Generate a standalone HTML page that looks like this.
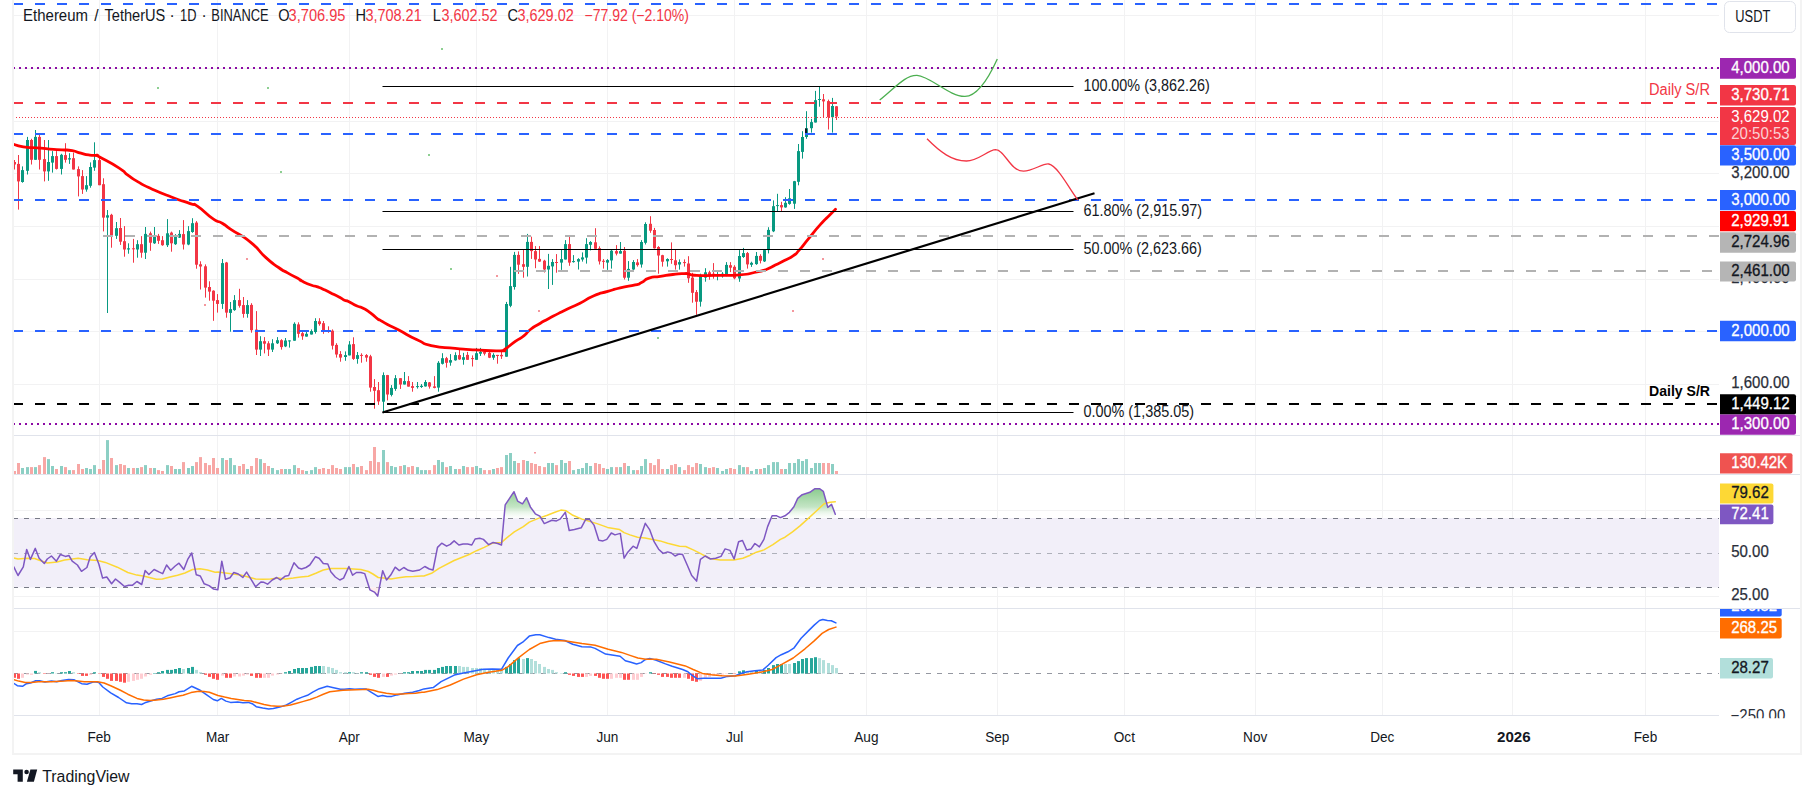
<!DOCTYPE html>
<html><head><meta charset="utf-8">
<style>
html,body{margin:0;padding:0;background:#fff;}
body{width:1814px;height:798px;overflow:hidden;position:relative;font-family:"Liberation Sans",sans-serif;}
svg text{font-family:"Liberation Sans",sans-serif;}
</style></head><body>
<svg width="1814" height="798" viewBox="0 0 1814 798" style="position:absolute;left:0;top:0">
<rect width="1814" height="798" fill="#fff"/>
<line x1="99.5" y1="0" x2="99.5" y2="715" stroke="#f2f2f3" stroke-width="1"/>
<line x1="217.5" y1="0" x2="217.5" y2="715" stroke="#f2f2f3" stroke-width="1"/>
<line x1="349.5" y1="0" x2="349.5" y2="715" stroke="#f2f2f3" stroke-width="1"/>
<line x1="476.5" y1="0" x2="476.5" y2="715" stroke="#f2f2f3" stroke-width="1"/>
<line x1="607.5" y1="0" x2="607.5" y2="715" stroke="#f2f2f3" stroke-width="1"/>
<line x1="734.5" y1="0" x2="734.5" y2="715" stroke="#f2f2f3" stroke-width="1"/>
<line x1="866.5" y1="0" x2="866.5" y2="715" stroke="#f2f2f3" stroke-width="1"/>
<line x1="997.5" y1="0" x2="997.5" y2="715" stroke="#f2f2f3" stroke-width="1"/>
<line x1="1124.5" y1="0" x2="1124.5" y2="715" stroke="#f2f2f3" stroke-width="1"/>
<line x1="1255.5" y1="0" x2="1255.5" y2="715" stroke="#f2f2f3" stroke-width="1"/>
<line x1="1382.5" y1="0" x2="1382.5" y2="715" stroke="#f2f2f3" stroke-width="1"/>
<line x1="1512.5" y1="0" x2="1512.5" y2="715" stroke="#f2f2f3" stroke-width="1"/>
<line x1="1645.5" y1="0" x2="1645.5" y2="715" stroke="#f2f2f3" stroke-width="1"/>
<line x1="14" y1="15.5" x2="1719" y2="15.5" stroke="#f2f2f3" stroke-width="1"/>
<line x1="14" y1="68.5" x2="1719" y2="68.5" stroke="#f2f2f3" stroke-width="1"/>
<line x1="14" y1="121.5" x2="1719" y2="121.5" stroke="#f2f2f3" stroke-width="1"/>
<line x1="14" y1="173.5" x2="1719" y2="173.5" stroke="#f2f2f3" stroke-width="1"/>
<line x1="14" y1="226.5" x2="1719" y2="226.5" stroke="#f2f2f3" stroke-width="1"/>
<line x1="14" y1="279.5" x2="1719" y2="279.5" stroke="#f2f2f3" stroke-width="1"/>
<line x1="14" y1="331.5" x2="1719" y2="331.5" stroke="#f2f2f3" stroke-width="1"/>
<line x1="14" y1="384.5" x2="1719" y2="384.5" stroke="#f2f2f3" stroke-width="1"/>
<line x1="14" y1="510.5" x2="1719" y2="510.5" stroke="#f2f2f3" stroke-width="1"/>
<line x1="14" y1="596.5" x2="1719" y2="596.5" stroke="#f2f2f3" stroke-width="1"/>
<line x1="14" y1="631.5" x2="1719" y2="631.5" stroke="#f2f2f3" stroke-width="1"/>
<rect x="14" y="518" width="1705" height="69.5" fill="#f2eff9"/>
<line x1="13" y1="518.5" x2="1719" y2="518.5" stroke="#787b86" stroke-width="1" stroke-dasharray="5 6"/>
<line x1="13" y1="553.5" x2="1719" y2="553.5" stroke="#aeb0ba" stroke-width="1" stroke-dasharray="5 6"/>
<line x1="13" y1="587.5" x2="1719" y2="587.5" stroke="#787b86" stroke-width="1" stroke-dasharray="5 6"/>
<line x1="13" y1="673.5" x2="1719" y2="673.5" stroke="#9598a1" stroke-width="1" stroke-dasharray="5 6"/>
<rect x="13" y="471.0" width="3" height="3.0" fill="#f7a7a5"/>
<rect x="17" y="463.0" width="3" height="11.0" fill="#f7a7a5"/>
<rect x="21" y="468.0" width="3" height="6.0" fill="#8ccfc4"/>
<rect x="26" y="467.1" width="3" height="6.9" fill="#8ccfc4"/>
<rect x="30" y="467.1" width="3" height="6.9" fill="#f7a7a5"/>
<rect x="34" y="467.1" width="3" height="6.9" fill="#8ccfc4"/>
<rect x="38" y="465.1" width="3" height="8.9" fill="#f7a7a5"/>
<rect x="43" y="457.1" width="3" height="16.9" fill="#f7a7a5"/>
<rect x="47" y="459.1" width="3" height="14.9" fill="#8ccfc4"/>
<rect x="51" y="466.0" width="3" height="8.0" fill="#8ccfc4"/>
<rect x="55" y="469.0" width="3" height="5.0" fill="#f7a7a5"/>
<rect x="60" y="466.0" width="3" height="8.0" fill="#8ccfc4"/>
<rect x="64" y="467.1" width="3" height="6.9" fill="#f7a7a5"/>
<rect x="68" y="470.1" width="3" height="3.9" fill="#8ccfc4"/>
<rect x="72" y="470.1" width="3" height="3.9" fill="#f7a7a5"/>
<rect x="77" y="464.0" width="3" height="10.0" fill="#f7a7a5"/>
<rect x="81" y="469.0" width="3" height="5.0" fill="#f7a7a5"/>
<rect x="85" y="468.0" width="3" height="6.0" fill="#8ccfc4"/>
<rect x="89" y="469.0" width="3" height="5.0" fill="#8ccfc4"/>
<rect x="93" y="465.1" width="3" height="8.9" fill="#8ccfc4"/>
<rect x="98" y="469.0" width="3" height="5.0" fill="#f7a7a5"/>
<rect x="102" y="460.0" width="3" height="14.0" fill="#f7a7a5"/>
<rect x="106" y="440.1" width="3" height="33.9" fill="#8ccfc4"/>
<rect x="110" y="458.0" width="3" height="16.0" fill="#f7a7a5"/>
<rect x="115" y="465.1" width="3" height="8.9" fill="#8ccfc4"/>
<rect x="119" y="464.0" width="3" height="10.0" fill="#f7a7a5"/>
<rect x="123" y="465.1" width="3" height="8.9" fill="#f7a7a5"/>
<rect x="127" y="468.0" width="3" height="6.0" fill="#8ccfc4"/>
<rect x="132" y="468.0" width="3" height="6.0" fill="#f7a7a5"/>
<rect x="136" y="468.0" width="3" height="6.0" fill="#8ccfc4"/>
<rect x="140" y="467.1" width="3" height="6.9" fill="#f7a7a5"/>
<rect x="144" y="465.1" width="3" height="8.9" fill="#8ccfc4"/>
<rect x="149" y="468.0" width="3" height="6.0" fill="#f7a7a5"/>
<rect x="153" y="468.0" width="3" height="6.0" fill="#8ccfc4"/>
<rect x="157" y="470.1" width="3" height="3.9" fill="#f7a7a5"/>
<rect x="161" y="471.0" width="3" height="3.0" fill="#f7a7a5"/>
<rect x="166" y="465.1" width="3" height="8.9" fill="#8ccfc4"/>
<rect x="170" y="466.0" width="3" height="8.0" fill="#f7a7a5"/>
<rect x="174" y="469.0" width="3" height="5.0" fill="#8ccfc4"/>
<rect x="178" y="469.0" width="3" height="5.0" fill="#8ccfc4"/>
<rect x="182" y="462.1" width="3" height="11.9" fill="#f7a7a5"/>
<rect x="187" y="468.0" width="3" height="6.0" fill="#8ccfc4"/>
<rect x="191" y="466.0" width="3" height="8.0" fill="#8ccfc4"/>
<rect x="195" y="462.1" width="3" height="11.9" fill="#f7a7a5"/>
<rect x="199" y="457.1" width="3" height="16.9" fill="#f7a7a5"/>
<rect x="204" y="463.0" width="3" height="11.0" fill="#f7a7a5"/>
<rect x="208" y="465.1" width="3" height="8.9" fill="#f7a7a5"/>
<rect x="212" y="458.0" width="3" height="16.0" fill="#f7a7a5"/>
<rect x="216" y="468.0" width="3" height="6.0" fill="#f7a7a5"/>
<rect x="221" y="458.0" width="3" height="16.0" fill="#8ccfc4"/>
<rect x="225" y="460.0" width="3" height="14.0" fill="#f7a7a5"/>
<rect x="229" y="458.0" width="3" height="16.0" fill="#8ccfc4"/>
<rect x="233" y="465.1" width="3" height="8.9" fill="#8ccfc4"/>
<rect x="238" y="466.0" width="3" height="8.0" fill="#f7a7a5"/>
<rect x="242" y="464.0" width="3" height="10.0" fill="#f7a7a5"/>
<rect x="246" y="469.0" width="3" height="5.0" fill="#8ccfc4"/>
<rect x="250" y="466.0" width="3" height="8.0" fill="#f7a7a5"/>
<rect x="255" y="458.0" width="3" height="16.0" fill="#f7a7a5"/>
<rect x="259" y="459.1" width="3" height="14.9" fill="#8ccfc4"/>
<rect x="263" y="463.0" width="3" height="11.0" fill="#f7a7a5"/>
<rect x="267" y="466.0" width="3" height="8.0" fill="#f7a7a5"/>
<rect x="271" y="468.0" width="3" height="6.0" fill="#8ccfc4"/>
<rect x="276" y="470.1" width="3" height="3.9" fill="#8ccfc4"/>
<rect x="280" y="469.0" width="3" height="5.0" fill="#f7a7a5"/>
<rect x="284" y="469.0" width="3" height="5.0" fill="#8ccfc4"/>
<rect x="288" y="469.0" width="3" height="5.0" fill="#8ccfc4"/>
<rect x="293" y="465.1" width="3" height="8.9" fill="#8ccfc4"/>
<rect x="297" y="468.0" width="3" height="6.0" fill="#f7a7a5"/>
<rect x="301" y="470.1" width="3" height="3.9" fill="#f7a7a5"/>
<rect x="305" y="471.0" width="3" height="3.0" fill="#8ccfc4"/>
<rect x="310" y="470.1" width="3" height="3.9" fill="#8ccfc4"/>
<rect x="314" y="467.1" width="3" height="6.9" fill="#8ccfc4"/>
<rect x="318" y="469.0" width="3" height="5.0" fill="#f7a7a5"/>
<rect x="322" y="468.0" width="3" height="6.0" fill="#f7a7a5"/>
<rect x="327" y="469.0" width="3" height="5.0" fill="#f7a7a5"/>
<rect x="331" y="465.1" width="3" height="8.9" fill="#f7a7a5"/>
<rect x="335" y="468.0" width="3" height="6.0" fill="#f7a7a5"/>
<rect x="339" y="469.0" width="3" height="5.0" fill="#f7a7a5"/>
<rect x="344" y="467.1" width="3" height="6.9" fill="#8ccfc4"/>
<rect x="348" y="467.1" width="3" height="6.9" fill="#8ccfc4"/>
<rect x="352" y="464.0" width="3" height="10.0" fill="#f7a7a5"/>
<rect x="356" y="467.1" width="3" height="6.9" fill="#8ccfc4"/>
<rect x="360" y="466.0" width="3" height="8.0" fill="#f7a7a5"/>
<rect x="365" y="470.1" width="3" height="3.9" fill="#f7a7a5"/>
<rect x="369" y="461.0" width="3" height="13.0" fill="#f7a7a5"/>
<rect x="373" y="447.0" width="3" height="27.0" fill="#f7a7a5"/>
<rect x="377" y="462.1" width="3" height="11.9" fill="#f7a7a5"/>
<rect x="382" y="450.0" width="3" height="24.0" fill="#8ccfc4"/>
<rect x="386" y="462.1" width="3" height="11.9" fill="#f7a7a5"/>
<rect x="390" y="466.0" width="3" height="8.0" fill="#8ccfc4"/>
<rect x="394" y="467.1" width="3" height="6.9" fill="#8ccfc4"/>
<rect x="399" y="466.0" width="3" height="8.0" fill="#f7a7a5"/>
<rect x="403" y="465.1" width="3" height="8.9" fill="#8ccfc4"/>
<rect x="407" y="467.1" width="3" height="6.9" fill="#f7a7a5"/>
<rect x="411" y="466.0" width="3" height="8.0" fill="#f7a7a5"/>
<rect x="416" y="467.1" width="3" height="6.9" fill="#8ccfc4"/>
<rect x="420" y="470.1" width="3" height="3.9" fill="#8ccfc4"/>
<rect x="424" y="470.1" width="3" height="3.9" fill="#8ccfc4"/>
<rect x="428" y="470.1" width="3" height="3.9" fill="#f7a7a5"/>
<rect x="433" y="465.1" width="3" height="8.9" fill="#f7a7a5"/>
<rect x="437" y="460.0" width="3" height="14.0" fill="#8ccfc4"/>
<rect x="441" y="462.1" width="3" height="11.9" fill="#8ccfc4"/>
<rect x="445" y="467.1" width="3" height="6.9" fill="#f7a7a5"/>
<rect x="449" y="466.0" width="3" height="8.0" fill="#8ccfc4"/>
<rect x="454" y="469.0" width="3" height="5.0" fill="#8ccfc4"/>
<rect x="458" y="469.0" width="3" height="5.0" fill="#f7a7a5"/>
<rect x="462" y="466.0" width="3" height="8.0" fill="#8ccfc4"/>
<rect x="466" y="467.1" width="3" height="6.9" fill="#f7a7a5"/>
<rect x="471" y="467.1" width="3" height="6.9" fill="#f7a7a5"/>
<rect x="475" y="466.0" width="3" height="8.0" fill="#8ccfc4"/>
<rect x="479" y="468.0" width="3" height="6.0" fill="#8ccfc4"/>
<rect x="483" y="470.1" width="3" height="3.9" fill="#f7a7a5"/>
<rect x="488" y="470.1" width="3" height="3.9" fill="#f7a7a5"/>
<rect x="492" y="469.0" width="3" height="5.0" fill="#8ccfc4"/>
<rect x="496" y="468.0" width="3" height="6.0" fill="#f7a7a5"/>
<rect x="500" y="467.1" width="3" height="6.9" fill="#f7a7a5"/>
<rect x="505" y="455.0" width="3" height="19.0" fill="#8ccfc4"/>
<rect x="509" y="453.0" width="3" height="21.0" fill="#8ccfc4"/>
<rect x="513" y="461.0" width="3" height="13.0" fill="#8ccfc4"/>
<rect x="517" y="463.0" width="3" height="11.0" fill="#f7a7a5"/>
<rect x="522" y="460.0" width="3" height="14.0" fill="#f7a7a5"/>
<rect x="526" y="461.0" width="3" height="13.0" fill="#8ccfc4"/>
<rect x="530" y="463.0" width="3" height="11.0" fill="#f7a7a5"/>
<rect x="534" y="464.0" width="3" height="10.0" fill="#f7a7a5"/>
<rect x="538" y="466.0" width="3" height="8.0" fill="#f7a7a5"/>
<rect x="543" y="467.1" width="3" height="6.9" fill="#f7a7a5"/>
<rect x="547" y="463.0" width="3" height="11.0" fill="#8ccfc4"/>
<rect x="551" y="463.0" width="3" height="11.0" fill="#8ccfc4"/>
<rect x="555" y="465.1" width="3" height="8.9" fill="#f7a7a5"/>
<rect x="560" y="460.0" width="3" height="14.0" fill="#8ccfc4"/>
<rect x="564" y="463.0" width="3" height="11.0" fill="#8ccfc4"/>
<rect x="568" y="461.0" width="3" height="13.0" fill="#f7a7a5"/>
<rect x="572" y="470.1" width="3" height="3.9" fill="#8ccfc4"/>
<rect x="577" y="469.0" width="3" height="5.0" fill="#8ccfc4"/>
<rect x="581" y="468.0" width="3" height="6.0" fill="#8ccfc4"/>
<rect x="585" y="463.0" width="3" height="11.0" fill="#8ccfc4"/>
<rect x="589" y="466.0" width="3" height="8.0" fill="#8ccfc4"/>
<rect x="594" y="463.0" width="3" height="11.0" fill="#f7a7a5"/>
<rect x="598" y="464.0" width="3" height="10.0" fill="#f7a7a5"/>
<rect x="602" y="468.0" width="3" height="6.0" fill="#f7a7a5"/>
<rect x="606" y="469.0" width="3" height="5.0" fill="#8ccfc4"/>
<rect x="610" y="467.1" width="3" height="6.9" fill="#8ccfc4"/>
<rect x="615" y="467.1" width="3" height="6.9" fill="#f7a7a5"/>
<rect x="619" y="467.1" width="3" height="6.9" fill="#8ccfc4"/>
<rect x="623" y="463.0" width="3" height="11.0" fill="#f7a7a5"/>
<rect x="627" y="466.0" width="3" height="8.0" fill="#8ccfc4"/>
<rect x="632" y="470.1" width="3" height="3.9" fill="#8ccfc4"/>
<rect x="636" y="470.1" width="3" height="3.9" fill="#f7a7a5"/>
<rect x="640" y="466.0" width="3" height="8.0" fill="#8ccfc4"/>
<rect x="644" y="459.1" width="3" height="14.9" fill="#8ccfc4"/>
<rect x="649" y="463.0" width="3" height="11.0" fill="#f7a7a5"/>
<rect x="653" y="465.1" width="3" height="8.9" fill="#f7a7a5"/>
<rect x="657" y="459.1" width="3" height="14.9" fill="#f7a7a5"/>
<rect x="661" y="469.0" width="3" height="5.0" fill="#f7a7a5"/>
<rect x="666" y="469.0" width="3" height="5.0" fill="#8ccfc4"/>
<rect x="670" y="465.1" width="3" height="8.9" fill="#f7a7a5"/>
<rect x="674" y="464.0" width="3" height="10.0" fill="#f7a7a5"/>
<rect x="678" y="467.1" width="3" height="6.9" fill="#8ccfc4"/>
<rect x="683" y="470.1" width="3" height="3.9" fill="#f7a7a5"/>
<rect x="687" y="465.1" width="3" height="8.9" fill="#f7a7a5"/>
<rect x="691" y="467.1" width="3" height="6.9" fill="#f7a7a5"/>
<rect x="695" y="463.0" width="3" height="11.0" fill="#f7a7a5"/>
<rect x="699" y="464.0" width="3" height="10.0" fill="#8ccfc4"/>
<rect x="704" y="467.1" width="3" height="6.9" fill="#8ccfc4"/>
<rect x="708" y="468.0" width="3" height="6.0" fill="#f7a7a5"/>
<rect x="712" y="467.1" width="3" height="6.9" fill="#f7a7a5"/>
<rect x="716" y="468.0" width="3" height="6.0" fill="#8ccfc4"/>
<rect x="721" y="471.0" width="3" height="3.0" fill="#8ccfc4"/>
<rect x="725" y="469.0" width="3" height="5.0" fill="#8ccfc4"/>
<rect x="729" y="468.0" width="3" height="6.0" fill="#f7a7a5"/>
<rect x="733" y="469.0" width="3" height="5.0" fill="#f7a7a5"/>
<rect x="738" y="465.1" width="3" height="8.9" fill="#8ccfc4"/>
<rect x="742" y="467.1" width="3" height="6.9" fill="#8ccfc4"/>
<rect x="746" y="467.1" width="3" height="6.9" fill="#f7a7a5"/>
<rect x="750" y="471.0" width="3" height="3.0" fill="#8ccfc4"/>
<rect x="755" y="469.0" width="3" height="5.0" fill="#8ccfc4"/>
<rect x="759" y="469.0" width="3" height="5.0" fill="#f7a7a5"/>
<rect x="763" y="468.0" width="3" height="6.0" fill="#8ccfc4"/>
<rect x="767" y="465.1" width="3" height="8.9" fill="#8ccfc4"/>
<rect x="772" y="462.1" width="3" height="11.9" fill="#8ccfc4"/>
<rect x="776" y="462.1" width="3" height="11.9" fill="#8ccfc4"/>
<rect x="780" y="469.0" width="3" height="5.0" fill="#f7a7a5"/>
<rect x="784" y="469.0" width="3" height="5.0" fill="#8ccfc4"/>
<rect x="788" y="463.0" width="3" height="11.0" fill="#8ccfc4"/>
<rect x="793" y="463.0" width="3" height="11.0" fill="#8ccfc4"/>
<rect x="797" y="459.1" width="3" height="14.9" fill="#8ccfc4"/>
<rect x="801" y="461.0" width="3" height="13.0" fill="#8ccfc4"/>
<rect x="805" y="459.1" width="3" height="14.9" fill="#8ccfc4"/>
<rect x="810" y="468.0" width="3" height="6.0" fill="#8ccfc4"/>
<rect x="814" y="463.0" width="3" height="11.0" fill="#8ccfc4"/>
<rect x="818" y="463.0" width="3" height="11.0" fill="#8ccfc4"/>
<rect x="822" y="463.0" width="3" height="11.0" fill="#f7a7a5"/>
<rect x="827" y="463.0" width="3" height="11.0" fill="#f7a7a5"/>
<rect x="831" y="464.0" width="3" height="10.0" fill="#8ccfc4"/>
<rect x="835" y="471.0" width="3" height="3.0" fill="#f7a7a5"/>
<rect x="13" y="673.5" width="3" height="4.3" fill="#ff5252"/>
<rect x="17" y="673.5" width="3" height="5.3" fill="#ff5252"/>
<rect x="21" y="673.5" width="3" height="4.3" fill="#ffcdd2"/>
<rect x="26" y="673.5" width="3" height="1.1" fill="#ffcdd2"/>
<rect x="30" y="673.5" width="3" height="1.3" fill="#ffcdd2"/>
<rect x="34" y="670.9" width="3" height="2.6" fill="#26a69a"/>
<rect x="38" y="672.2" width="3" height="1.3" fill="#b2dfdb"/>
<rect x="43" y="673.5" width="3" height="0.5" fill="#ff5252"/>
<rect x="47" y="673.5" width="3" height="0.4" fill="#ffcdd2"/>
<rect x="51" y="672.2" width="3" height="1.3" fill="#26a69a"/>
<rect x="55" y="673.2" width="3" height="0.3" fill="#b2dfdb"/>
<rect x="60" y="672.2" width="3" height="1.3" fill="#26a69a"/>
<rect x="64" y="672.2" width="3" height="1.3" fill="#26a69a"/>
<rect x="68" y="671.0" width="3" height="2.5" fill="#26a69a"/>
<rect x="72" y="672.2" width="3" height="1.3" fill="#b2dfdb"/>
<rect x="77" y="673.5" width="3" height="0.5" fill="#ff5252"/>
<rect x="81" y="673.5" width="3" height="2.4" fill="#ff5252"/>
<rect x="85" y="673.5" width="3" height="2.4" fill="#ff5252"/>
<rect x="89" y="673.5" width="3" height="1.3" fill="#ffcdd2"/>
<rect x="93" y="672.2" width="3" height="1.3" fill="#26a69a"/>
<rect x="98" y="673.5" width="3" height="0.4" fill="#ff5252"/>
<rect x="102" y="673.5" width="3" height="3.4" fill="#ff5252"/>
<rect x="106" y="673.5" width="3" height="5.3" fill="#ff5252"/>
<rect x="110" y="673.5" width="3" height="7.4" fill="#ff5252"/>
<rect x="115" y="673.5" width="3" height="7.4" fill="#ff5252"/>
<rect x="119" y="673.5" width="3" height="8.3" fill="#ff5252"/>
<rect x="123" y="673.5" width="3" height="9.2" fill="#ff5252"/>
<rect x="127" y="673.5" width="3" height="8.3" fill="#ffcdd2"/>
<rect x="132" y="673.5" width="3" height="7.4" fill="#ffcdd2"/>
<rect x="136" y="673.5" width="3" height="6.3" fill="#ffcdd2"/>
<rect x="140" y="673.5" width="3" height="5.3" fill="#ffcdd2"/>
<rect x="144" y="673.5" width="3" height="3.0" fill="#ffcdd2"/>
<rect x="149" y="673.5" width="3" height="1.3" fill="#ffcdd2"/>
<rect x="153" y="673.0" width="3" height="0.5" fill="#26a69a"/>
<rect x="157" y="672.2" width="3" height="1.3" fill="#26a69a"/>
<rect x="161" y="671.0" width="3" height="2.5" fill="#26a69a"/>
<rect x="166" y="669.9" width="3" height="3.6" fill="#26a69a"/>
<rect x="170" y="669.9" width="3" height="3.6" fill="#26a69a"/>
<rect x="174" y="669.0" width="3" height="4.5" fill="#26a69a"/>
<rect x="178" y="668.0" width="3" height="5.5" fill="#26a69a"/>
<rect x="182" y="669.0" width="3" height="4.5" fill="#b2dfdb"/>
<rect x="187" y="668.0" width="3" height="5.5" fill="#26a69a"/>
<rect x="191" y="666.9" width="3" height="6.6" fill="#26a69a"/>
<rect x="195" y="669.9" width="3" height="3.6" fill="#b2dfdb"/>
<rect x="199" y="672.2" width="3" height="1.3" fill="#b2dfdb"/>
<rect x="204" y="673.5" width="3" height="1.3" fill="#ff5252"/>
<rect x="208" y="673.5" width="3" height="3.4" fill="#ff5252"/>
<rect x="212" y="673.5" width="3" height="5.3" fill="#ff5252"/>
<rect x="216" y="673.5" width="3" height="6.3" fill="#ff5252"/>
<rect x="221" y="673.5" width="3" height="2.1" fill="#ffcdd2"/>
<rect x="225" y="673.5" width="3" height="4.3" fill="#ff5252"/>
<rect x="229" y="673.5" width="3" height="4.3" fill="#ff5252"/>
<rect x="233" y="673.5" width="3" height="3.0" fill="#ffcdd2"/>
<rect x="238" y="673.5" width="3" height="3.0" fill="#ffcdd2"/>
<rect x="242" y="673.5" width="3" height="2.1" fill="#ffcdd2"/>
<rect x="246" y="673.5" width="3" height="1.1" fill="#ffcdd2"/>
<rect x="250" y="673.5" width="3" height="2.4" fill="#ff5252"/>
<rect x="255" y="673.5" width="3" height="4.3" fill="#ff5252"/>
<rect x="259" y="673.5" width="3" height="4.3" fill="#ff5252"/>
<rect x="263" y="673.5" width="3" height="4.3" fill="#ffcdd2"/>
<rect x="267" y="673.5" width="3" height="4.3" fill="#ffcdd2"/>
<rect x="271" y="673.5" width="3" height="2.1" fill="#ffcdd2"/>
<rect x="276" y="673.5" width="3" height="1.1" fill="#ffcdd2"/>
<rect x="280" y="673.5" width="3" height="0.4" fill="#ffcdd2"/>
<rect x="284" y="672.2" width="3" height="1.3" fill="#26a69a"/>
<rect x="288" y="671.0" width="3" height="2.5" fill="#26a69a"/>
<rect x="293" y="669.0" width="3" height="4.5" fill="#26a69a"/>
<rect x="297" y="668.0" width="3" height="5.5" fill="#26a69a"/>
<rect x="301" y="668.0" width="3" height="5.5" fill="#26a69a"/>
<rect x="305" y="668.0" width="3" height="5.5" fill="#26a69a"/>
<rect x="310" y="666.9" width="3" height="6.6" fill="#26a69a"/>
<rect x="314" y="666.0" width="3" height="7.5" fill="#26a69a"/>
<rect x="318" y="666.0" width="3" height="7.5" fill="#26a69a"/>
<rect x="322" y="666.0" width="3" height="7.5" fill="#b2dfdb"/>
<rect x="327" y="666.9" width="3" height="6.6" fill="#b2dfdb"/>
<rect x="331" y="668.0" width="3" height="5.5" fill="#b2dfdb"/>
<rect x="335" y="669.9" width="3" height="3.6" fill="#b2dfdb"/>
<rect x="339" y="672.2" width="3" height="1.3" fill="#b2dfdb"/>
<rect x="344" y="672.2" width="3" height="1.3" fill="#b2dfdb"/>
<rect x="348" y="672.2" width="3" height="1.3" fill="#26a69a"/>
<rect x="352" y="672.2" width="3" height="1.3" fill="#b2dfdb"/>
<rect x="356" y="673.0" width="3" height="0.5" fill="#b2dfdb"/>
<rect x="360" y="672.2" width="3" height="1.3" fill="#26a69a"/>
<rect x="365" y="672.2" width="3" height="1.3" fill="#26a69a"/>
<rect x="369" y="673.5" width="3" height="1.3" fill="#ff5252"/>
<rect x="373" y="673.5" width="3" height="3.4" fill="#ff5252"/>
<rect x="377" y="673.5" width="3" height="4.3" fill="#ff5252"/>
<rect x="382" y="673.5" width="3" height="3.4" fill="#ffcdd2"/>
<rect x="386" y="673.5" width="3" height="3.4" fill="#ff5252"/>
<rect x="390" y="673.5" width="3" height="2.1" fill="#ffcdd2"/>
<rect x="394" y="673.5" width="3" height="1.1" fill="#ffcdd2"/>
<rect x="399" y="673.5" width="3" height="0.3" fill="#ffcdd2"/>
<rect x="403" y="672.2" width="3" height="1.3" fill="#26a69a"/>
<rect x="407" y="672.2" width="3" height="1.3" fill="#26a69a"/>
<rect x="411" y="671.0" width="3" height="2.5" fill="#26a69a"/>
<rect x="416" y="671.0" width="3" height="2.5" fill="#26a69a"/>
<rect x="420" y="671.0" width="3" height="2.5" fill="#26a69a"/>
<rect x="424" y="669.9" width="3" height="3.6" fill="#26a69a"/>
<rect x="428" y="669.9" width="3" height="3.6" fill="#26a69a"/>
<rect x="433" y="669.9" width="3" height="3.6" fill="#26a69a"/>
<rect x="437" y="668.0" width="3" height="5.5" fill="#26a69a"/>
<rect x="441" y="666.9" width="3" height="6.6" fill="#26a69a"/>
<rect x="445" y="666.0" width="3" height="7.5" fill="#26a69a"/>
<rect x="449" y="666.0" width="3" height="7.5" fill="#26a69a"/>
<rect x="454" y="666.0" width="3" height="7.5" fill="#26a69a"/>
<rect x="458" y="666.0" width="3" height="7.5" fill="#b2dfdb"/>
<rect x="462" y="666.9" width="3" height="6.6" fill="#b2dfdb"/>
<rect x="466" y="666.9" width="3" height="6.6" fill="#b2dfdb"/>
<rect x="471" y="668.0" width="3" height="5.5" fill="#b2dfdb"/>
<rect x="475" y="668.0" width="3" height="5.5" fill="#b2dfdb"/>
<rect x="479" y="668.0" width="3" height="5.5" fill="#b2dfdb"/>
<rect x="483" y="669.0" width="3" height="4.5" fill="#b2dfdb"/>
<rect x="488" y="669.0" width="3" height="4.5" fill="#b2dfdb"/>
<rect x="492" y="669.9" width="3" height="3.6" fill="#b2dfdb"/>
<rect x="496" y="669.9" width="3" height="3.6" fill="#b2dfdb"/>
<rect x="500" y="669.9" width="3" height="3.6" fill="#b2dfdb"/>
<rect x="505" y="666.9" width="3" height="6.6" fill="#26a69a"/>
<rect x="509" y="664.0" width="3" height="9.5" fill="#26a69a"/>
<rect x="513" y="660.1" width="3" height="13.4" fill="#26a69a"/>
<rect x="517" y="658.1" width="3" height="15.4" fill="#26a69a"/>
<rect x="522" y="659.0" width="3" height="14.5" fill="#b2dfdb"/>
<rect x="526" y="658.1" width="3" height="15.4" fill="#26a69a"/>
<rect x="530" y="659.0" width="3" height="14.5" fill="#b2dfdb"/>
<rect x="534" y="661.0" width="3" height="12.5" fill="#b2dfdb"/>
<rect x="538" y="664.0" width="3" height="9.5" fill="#b2dfdb"/>
<rect x="543" y="666.9" width="3" height="6.6" fill="#b2dfdb"/>
<rect x="547" y="669.0" width="3" height="4.5" fill="#b2dfdb"/>
<rect x="551" y="669.9" width="3" height="3.6" fill="#b2dfdb"/>
<rect x="555" y="672.2" width="3" height="1.3" fill="#b2dfdb"/>
<rect x="560" y="673.0" width="3" height="0.5" fill="#b2dfdb"/>
<rect x="564" y="672.2" width="3" height="1.3" fill="#26a69a"/>
<rect x="568" y="673.5" width="3" height="1.3" fill="#ff5252"/>
<rect x="572" y="673.5" width="3" height="2.4" fill="#ff5252"/>
<rect x="577" y="673.5" width="3" height="3.4" fill="#ff5252"/>
<rect x="581" y="673.5" width="3" height="3.4" fill="#ff5252"/>
<rect x="585" y="673.5" width="3" height="3.4" fill="#ffcdd2"/>
<rect x="589" y="673.5" width="3" height="2.4" fill="#ffcdd2"/>
<rect x="594" y="673.5" width="3" height="2.4" fill="#ff5252"/>
<rect x="598" y="673.5" width="3" height="4.3" fill="#ff5252"/>
<rect x="602" y="673.5" width="3" height="5.3" fill="#ff5252"/>
<rect x="606" y="673.5" width="3" height="5.3" fill="#ff5252"/>
<rect x="610" y="673.5" width="3" height="5.3" fill="#ffcdd2"/>
<rect x="615" y="673.5" width="3" height="4.3" fill="#ffcdd2"/>
<rect x="619" y="673.5" width="3" height="4.3" fill="#ffcdd2"/>
<rect x="623" y="673.5" width="3" height="6.3" fill="#ff5252"/>
<rect x="627" y="673.5" width="3" height="6.3" fill="#ff5252"/>
<rect x="632" y="673.5" width="3" height="6.3" fill="#ffcdd2"/>
<rect x="636" y="673.5" width="3" height="6.3" fill="#ffcdd2"/>
<rect x="640" y="673.5" width="3" height="3.4" fill="#ffcdd2"/>
<rect x="644" y="673.5" width="3" height="0.4" fill="#ffcdd2"/>
<rect x="649" y="672.2" width="3" height="1.3" fill="#26a69a"/>
<rect x="653" y="673.5" width="3" height="0.4" fill="#ff5252"/>
<rect x="657" y="673.5" width="3" height="1.3" fill="#ff5252"/>
<rect x="661" y="673.5" width="3" height="3.4" fill="#ff5252"/>
<rect x="666" y="673.5" width="3" height="3.4" fill="#ff5252"/>
<rect x="670" y="673.5" width="3" height="4.3" fill="#ff5252"/>
<rect x="674" y="673.5" width="3" height="4.3" fill="#ff5252"/>
<rect x="678" y="673.5" width="3" height="4.3" fill="#ff5252"/>
<rect x="683" y="673.5" width="3" height="4.3" fill="#ffcdd2"/>
<rect x="687" y="673.5" width="3" height="5.3" fill="#ff5252"/>
<rect x="691" y="673.5" width="3" height="7.4" fill="#ff5252"/>
<rect x="695" y="673.5" width="3" height="8.3" fill="#ff5252"/>
<rect x="699" y="673.5" width="3" height="7.4" fill="#ffcdd2"/>
<rect x="704" y="673.5" width="3" height="4.3" fill="#ffcdd2"/>
<rect x="708" y="673.5" width="3" height="3.4" fill="#ffcdd2"/>
<rect x="712" y="673.5" width="3" height="2.4" fill="#ffcdd2"/>
<rect x="716" y="673.5" width="3" height="1.3" fill="#ffcdd2"/>
<rect x="721" y="673.5" width="3" height="1.1" fill="#ffcdd2"/>
<rect x="725" y="673.5" width="3" height="0.5" fill="#ffcdd2"/>
<rect x="729" y="673.2" width="3" height="0.3" fill="#26a69a"/>
<rect x="733" y="673.5" width="3" height="0.4" fill="#ff5252"/>
<rect x="738" y="671.3" width="3" height="2.2" fill="#26a69a"/>
<rect x="742" y="670.3" width="3" height="3.2" fill="#26a69a"/>
<rect x="746" y="671.3" width="3" height="2.2" fill="#b2dfdb"/>
<rect x="750" y="671.3" width="3" height="2.2" fill="#b2dfdb"/>
<rect x="755" y="670.3" width="3" height="3.2" fill="#26a69a"/>
<rect x="759" y="670.9" width="3" height="2.6" fill="#b2dfdb"/>
<rect x="763" y="669.9" width="3" height="3.6" fill="#26a69a"/>
<rect x="767" y="668.0" width="3" height="5.5" fill="#26a69a"/>
<rect x="772" y="665.1" width="3" height="8.4" fill="#26a69a"/>
<rect x="776" y="664.0" width="3" height="9.5" fill="#26a69a"/>
<rect x="780" y="664.0" width="3" height="9.5" fill="#26a69a"/>
<rect x="784" y="664.0" width="3" height="9.5" fill="#b2dfdb"/>
<rect x="788" y="664.0" width="3" height="9.5" fill="#b2dfdb"/>
<rect x="793" y="663.0" width="3" height="10.5" fill="#26a69a"/>
<rect x="797" y="661.1" width="3" height="12.4" fill="#26a69a"/>
<rect x="801" y="659.0" width="3" height="14.5" fill="#26a69a"/>
<rect x="805" y="658.1" width="3" height="15.4" fill="#26a69a"/>
<rect x="810" y="658.1" width="3" height="15.4" fill="#26a69a"/>
<rect x="814" y="657.2" width="3" height="16.3" fill="#26a69a"/>
<rect x="818" y="658.1" width="3" height="15.4" fill="#b2dfdb"/>
<rect x="822" y="660.1" width="3" height="13.4" fill="#b2dfdb"/>
<rect x="827" y="663.0" width="3" height="10.5" fill="#b2dfdb"/>
<rect x="831" y="665.1" width="3" height="8.4" fill="#b2dfdb"/>
<rect x="835" y="668.0" width="3" height="5.5" fill="#b2dfdb"/>
<polyline points="13.3,683.0 17.3,685.7 22.5,686.3 26.5,683.7 30.4,683.0 35.7,680.8 39.6,680.8 44.9,682.1 51.5,681.1 56.7,681.7 62.0,680.4 68.6,679.5 73.8,679.7 79.1,682.4 81.7,683.7 87.0,684.3 92.3,682.4 94.9,681.7 98.8,682.6 102.8,687.0 110.7,692.9 118.6,697.5 126.5,702.8 131.7,703.7 137.0,703.8 141.6,704.5 144.9,702.8 151.5,700.8 156.7,699.2 162.0,698.4 167.3,695.8 175.2,693.6 179.1,691.8 184.4,690.9 191.6,686.3 200.2,690.3 206.7,694.9 213.3,699.5 217.3,700.8 221.3,698.4 225.9,701.1 230.5,702.4 237.7,702.1 243.0,702.8 248.3,702.4 252.2,703.7 256.2,706.7 262.7,708.0 268.7,708.9 273.3,708.4 279.8,707.1 286.4,705.0 291.7,702.1 296.9,699.2 302.2,697.1 307.5,695.3 312.7,692.2 319.3,688.7 327.2,686.3 332.5,687.4 340.4,689.3 344.3,689.3 349.6,688.7 354.8,689.2 360.1,688.9 366.0,688.9 370.6,691.8 377.9,696.4 382.5,695.5 387.1,696.6 391.7,696.4 396.9,694.9 404.8,693.2 412.7,692.2 419.3,690.5 424.0,688.9 433.2,687.6 441.1,681.7 454.3,675.1 463.5,672.9 476.6,670.5 483.2,669.2 492.4,668.9 501.6,669.2 508.2,658.0 517.4,645.5 522.7,642.2 529.3,636.1 535.8,634.7 539.8,634.7 549.0,637.6 555.6,639.2 564.8,640.5 572.7,644.2 581.9,646.8 591.1,647.1 595.1,648.4 605.6,654.1 620.1,656.3 625.3,660.7 630.0,662.0 636.6,664.0 641.2,662.6 645.1,659.7 649.7,658.4 656.3,660.3 665.5,663.9 672.1,666.3 682.6,669.5 687.9,671.8 691.8,675.1 697.1,678.7 703.7,678.2 711.6,678.2 720.8,678.2 727.4,676.4 735.3,675.8 741.8,673.2 747.1,671.8 755.0,670.8 762.9,669.9 768.2,665.3 776.1,657.6 781.3,654.7 787.9,651.8 793.8,648.2 801.1,638.3 808.9,630.4 814.2,625.1 819.5,620.5 822.8,619.5 827.4,620.5 831.3,620.8 835.9,622.9" fill="none" stroke="#2962ff" stroke-width="1.5" stroke-linejoin="round" stroke-linecap="round" />
<polyline points="13.3,679.5 18.6,681.1 25.2,682.4 31.7,682.4 38.3,681.7 51.5,681.7 64.6,681.1 71.2,680.4 77.8,681.1 84.4,681.7 90.9,681.7 97.5,681.7 104.1,683.0 110.7,685.7 119.9,690.0 127.8,694.2 137.0,698.4 143.6,700.1 150.2,700.5 156.7,700.1 163.3,699.2 169.9,697.9 176.5,696.6 183.1,695.3 191.0,692.6 198.8,691.3 204.1,691.6 209.4,692.2 214.6,694.2 218.0,695.5 224.6,697.1 231.2,698.4 237.7,699.5 244.3,700.5 250.9,701.1 257.5,702.8 264.1,704.5 270.6,705.8 277.2,706.3 283.8,706.1 290.4,705.0 296.9,703.2 303.5,701.4 310.1,699.5 316.7,697.1 323.3,694.2 329.8,691.8 336.4,690.9 343.0,690.3 349.6,690.0 356.2,689.7 362.7,689.6 368.0,689.2 373.3,690.3 378.5,691.8 386.4,693.2 394.4,694.2 402.2,693.9 408.8,693.6 415.4,693.2 421.9,692.2 424.0,692.2 437.2,689.6 450.3,685.0 463.5,679.1 476.6,674.7 487.2,672.5 501.6,670.3 508.2,666.6 518.7,657.6 529.3,649.5 539.8,643.6 549.0,641.3 555.6,640.5 566.1,640.9 581.9,643.6 595.1,645.3 608.2,649.2 621.4,652.4 630.0,655.4 637.9,658.0 645.8,659.3 656.3,659.3 669.5,662.0 685.3,665.9 693.2,669.5 702.4,673.4 711.6,674.7 722.1,675.8 735.3,676.1 748.4,674.2 761.6,672.1 772.1,669.5 781.3,664.6 793.2,658.0 805.0,648.8 814.2,640.9 822.1,633.4 828.7,629.5 835.9,627.1" fill="none" stroke="#ff6d00" stroke-width="1.5" stroke-linejoin="round" stroke-linecap="round" />
<defs><linearGradient id="gg" gradientUnits="userSpaceOnUse" x1="0" y1="489" x2="0" y2="519"><stop offset="0" stop-color="#8ccc90"/><stop offset="0.6" stop-color="#c4e5c5"/><stop offset="1" stop-color="#ffffff" stop-opacity="0.3"/></linearGradient></defs>
<polygon points="505.2,518.5 505.2,504.8 509.7,498.1 514.0,491.7 517.6,501.1 522.5,503.8 526.6,497.7 530.5,507.1 535.3,513.8 539.8,516.1 539.8,518.5" fill="url(#gg)"/>
<polygon points="789.4,518.5 789.4,512.3 793.9,506.8 797.7,498.4 802.2,494.7 809.8,492.3 815.0,488.7 819.5,488.7 823.3,491.3 827.8,507.4 831.6,504.4 835.3,514.3 835.3,518.5" fill="url(#gg)"/>
<polygon points="368.5,587.5 369.9,589.8 374.4,592.1 377.7,596.1 379.3,587.5" fill="#fdecec"/>
<polyline points="13.8,557.9 18.0,559.0 27.0,558.2 34.6,558.5 42.1,561.2 47.3,563.0 57.1,562.0 64.6,560.0 78.2,558.2 87.2,559.7 97.7,560.5 105.3,562.4 117.3,567.2 127.8,572.5 136.9,575.1 144.4,576.3 156.4,579.3 162.4,579.0 170.0,577.0 177.5,575.2 185.0,573.0 192.5,569.5 200.0,568.7 207.5,570.0 215.1,572.2 218.0,572.1 225.5,573.0 233.0,574.0 240.6,575.1 248.1,577.0 255.6,579.0 263.1,579.3 270.6,579.0 278.2,578.1 285.7,579.0 293.2,578.1 300.7,577.0 308.3,576.3 315.8,573.3 323.3,570.0 330.8,568.4 338.3,568.4 345.9,568.4 353.4,569.0 360.9,569.5 368.4,571.5 372.9,574.0 378.2,577.5 383.5,578.1 391.0,579.0 398.5,577.8 406.0,576.7 413.6,576.6 421.1,576.0 424.0,576.0 431.5,573.3 439.0,568.4 454.1,560.5 469.1,554.5 476.6,550.7 484.2,547.4 493.2,542.9 501.5,542.4 506.7,537.9 514.3,531.9 523.3,526.6 529.3,522.1 538.3,518.4 547.3,515.3 554.9,512.3 560.9,510.1 566.2,510.8 572.9,515.3 581.9,519.1 589.5,521.4 597.0,523.6 607.5,527.4 619.6,529.6 624.1,532.6 630.0,534.9 637.5,537.2 645.0,537.9 652.6,539.4 660.1,540.9 667.6,543.2 679.6,546.2 685.7,546.5 693.2,549.9 700.7,553.7 709.7,558.5 720.3,560.0 733.8,560.0 742.8,558.2 750.3,555.2 756.4,552.2 763.9,549.9 772.9,544.7 780.4,539.4 785.0,537.2 792.5,531.9 800.0,525.9 807.5,519.1 815.0,512.3 824.1,503.8 830.1,502.3 835.3,501.8" fill="none" stroke="#fdd835" stroke-width="1.5" stroke-linejoin="round" stroke-linecap="round" />
<polyline points="13.8,566.9 18.0,575.5 23.3,566.9 26.7,549.5 30.4,559.4 35.3,548.4 39.1,558.2 44.3,563.5 47.3,559.0 51.4,556.0 56.4,561.2 60.4,554.5 65.4,556.4 68.9,555.5 72.2,561.2 77.4,565.0 81.5,571.3 86.9,567.5 90.2,557.0 94.4,552.5 98.9,564.2 102.6,578.1 106.8,577.0 111.6,583.8 115.5,579.0 120.0,582.6 124.5,586.5 128.6,585.3 132.3,585.3 136.9,581.5 141.7,584.5 145.1,570.6 148.9,574.5 154.1,569.5 159.4,572.1 162.7,573.6 166.6,565.0 170.7,570.3 175.2,566.0 179.0,563.2 183.8,569.5 187.7,559.4 191.7,553.0 196.3,574.8 200.3,576.0 204.2,583.8 209.1,585.6 213.6,589.1 217.8,589.8 221.8,561.2 225.5,579.3 230.0,577.8 233.8,572.5 238.3,574.0 242.8,577.5 246.6,572.1 251.1,579.3 255.6,586.8 260.9,582.0 263.9,582.3 267.6,584.2 272.2,580.0 276.7,577.5 280.4,580.0 284.9,576.3 288.7,575.5 294.0,562.7 298.5,568.0 301.5,569.0 306.0,567.5 309.8,565.0 315.5,556.7 319.1,558.2 323.3,563.5 327.8,563.9 330.8,571.8 335.3,577.0 339.8,580.0 343.6,578.1 348.9,566.5 352.6,575.2 356.4,572.5 360.9,572.5 364.7,573.6 369.9,589.8 374.4,592.1 377.7,596.1 382.7,570.7 386.5,580.0 390.7,575.1 395.2,567.2 399.3,570.6 403.8,567.5 408.3,570.3 412.8,571.3 419.6,570.0 424.8,566.5 429.3,569.0 433.0,570.0 437.5,547.4 441.7,543.2 446.6,546.2 450.3,544.4 454.1,540.9 458.9,545.0 463.1,543.9 467.6,543.9 471.8,545.0 475.1,539.0 479.7,538.2 483.4,539.4 488.7,544.7 493.2,542.4 497.7,543.5 501.5,545.0 505.2,504.8 509.7,498.1 514.0,491.7 517.6,501.1 522.5,503.8 526.6,497.7 530.5,507.1 535.3,513.8 539.8,516.1 544.3,523.6 551.9,520.3 556.4,520.9 560.1,519.1 565.4,512.3 569.2,530.5 574.4,529.6 581.2,527.8 585.7,519.4 589.5,519.4 594.0,525.1 598.8,540.2 603.0,540.9 606.8,539.4 611.3,533.0 615.0,534.9 620.3,533.4 624.1,558.2 627.8,552.2 633.1,546.2 636.8,548.4 641.3,534.9 645.3,523.3 649.6,529.6 654.1,541.7 658.6,549.2 663.1,553.4 667.6,551.9 671.4,553.0 675.1,556.0 678.9,554.0 682.6,554.5 687.2,565.0 691.7,575.5 696.6,581.1 700.4,559.4 705.2,556.0 710.5,559.0 715.7,558.2 721.0,556.4 725.1,548.9 730.0,550.4 734.1,559.0 738.6,541.7 742.5,540.5 746.6,549.9 751.1,548.9 754.9,543.5 759.4,546.9 763.9,539.4 767.6,526.6 772.1,515.8 776.7,515.8 780.4,517.6 785.0,515.8 789.4,512.3 793.9,506.8 797.7,498.4 802.2,494.7 809.8,492.3 815.0,488.7 819.5,488.7 823.3,491.3 827.8,507.4 831.6,504.4 835.3,514.3" fill="none" stroke="#7e57c2" stroke-width="1.5" stroke-linejoin="round" stroke-linecap="round" />
<clipPath id="cmain"><rect x="14" y="0" width="1705" height="435"/></clipPath>
<g clip-path="url(#cmain)">
<rect x="14" y="160.0" width="1" height="9.5" fill="#f23645"/>
<rect x="13" y="162.0" width="3" height="2.5" fill="#f23645"/>
<rect x="18" y="155.0" width="1" height="54.6" fill="#f23645"/>
<rect x="17" y="163.9" width="3" height="17.5" fill="#f23645"/>
<rect x="22" y="166.4" width="1" height="16.3" fill="#089981"/>
<rect x="21" y="170.1" width="3" height="11.9" fill="#089981"/>
<rect x="27" y="136.9" width="1" height="37.6" fill="#089981"/>
<rect x="26" y="140.0" width="3" height="30.8" fill="#089981"/>
<rect x="31" y="138.8" width="1" height="25.7" fill="#f23645"/>
<rect x="30" y="140.0" width="3" height="19.8" fill="#f23645"/>
<rect x="35" y="130.0" width="1" height="29.8" fill="#089981"/>
<rect x="34" y="136.9" width="3" height="22.9" fill="#089981"/>
<rect x="39" y="135.0" width="1" height="34.5" fill="#f23645"/>
<rect x="38" y="136.9" width="3" height="22.9" fill="#f23645"/>
<rect x="44" y="140.0" width="1" height="41.4" fill="#f23645"/>
<rect x="43" y="159.1" width="3" height="12.3" fill="#f23645"/>
<rect x="48" y="140.0" width="1" height="40.8" fill="#089981"/>
<rect x="47" y="162.0" width="3" height="9.4" fill="#089981"/>
<rect x="52" y="151.1" width="1" height="21.5" fill="#089981"/>
<rect x="51" y="156.1" width="3" height="6.5" fill="#089981"/>
<rect x="56" y="151.1" width="1" height="18.4" fill="#f23645"/>
<rect x="55" y="156.1" width="3" height="12.8" fill="#f23645"/>
<rect x="61" y="153.8" width="1" height="20.7" fill="#089981"/>
<rect x="60" y="154.8" width="3" height="14.1" fill="#089981"/>
<rect x="65" y="143.2" width="1" height="19.4" fill="#f23645"/>
<rect x="64" y="155.1" width="3" height="4.7" fill="#f23645"/>
<rect x="69" y="153.2" width="1" height="10.7" fill="#089981"/>
<rect x="68" y="158.2" width="3" height="1.3" fill="#089981"/>
<rect x="73" y="152.6" width="1" height="16.9" fill="#f23645"/>
<rect x="72" y="158.2" width="3" height="11.3" fill="#f23645"/>
<rect x="78" y="166.4" width="1" height="30.0" fill="#f23645"/>
<rect x="77" y="169.1" width="3" height="7.3" fill="#f23645"/>
<rect x="82" y="170.1" width="1" height="23.8" fill="#f23645"/>
<rect x="81" y="176.1" width="3" height="13.4" fill="#f23645"/>
<rect x="86" y="176.1" width="1" height="15.6" fill="#089981"/>
<rect x="85" y="185.2" width="3" height="4.3" fill="#089981"/>
<rect x="90" y="162.4" width="1" height="25.3" fill="#089981"/>
<rect x="89" y="167.0" width="3" height="18.8" fill="#089981"/>
<rect x="94" y="142.3" width="1" height="28.5" fill="#089981"/>
<rect x="93" y="160.1" width="3" height="7.5" fill="#089981"/>
<rect x="99" y="157.6" width="1" height="27.6" fill="#f23645"/>
<rect x="98" y="160.1" width="3" height="25.1" fill="#f23645"/>
<rect x="103" y="178.3" width="1" height="53.1" fill="#f23645"/>
<rect x="102" y="184.2" width="3" height="33.4" fill="#f23645"/>
<rect x="107" y="210.0" width="1" height="103.0" fill="#089981"/>
<rect x="106" y="215.3" width="3" height="2.3" fill="#089981"/>
<rect x="111" y="213.8" width="1" height="33.9" fill="#f23645"/>
<rect x="110" y="214.8" width="3" height="20.3" fill="#f23645"/>
<rect x="116" y="222.0" width="1" height="16.9" fill="#089981"/>
<rect x="115" y="228.2" width="3" height="7.6" fill="#089981"/>
<rect x="120" y="218.0" width="1" height="26.9" fill="#f23645"/>
<rect x="119" y="228.0" width="3" height="13.7" fill="#f23645"/>
<rect x="124" y="226.1" width="1" height="30.6" fill="#f23645"/>
<rect x="123" y="241.2" width="3" height="8.3" fill="#f23645"/>
<rect x="128" y="243.3" width="1" height="10.4" fill="#089981"/>
<rect x="127" y="248.3" width="3" height="1.2" fill="#089981"/>
<rect x="133" y="238.9" width="1" height="23.8" fill="#f23645"/>
<rect x="132" y="248.3" width="3" height="1.0" fill="#f23645"/>
<rect x="137" y="240.2" width="1" height="17.5" fill="#089981"/>
<rect x="136" y="244.2" width="3" height="5.3" fill="#089981"/>
<rect x="141" y="236.1" width="1" height="21.6" fill="#f23645"/>
<rect x="140" y="244.2" width="3" height="8.5" fill="#f23645"/>
<rect x="145" y="227.0" width="1" height="32.0" fill="#089981"/>
<rect x="144" y="233.9" width="3" height="18.8" fill="#089981"/>
<rect x="150" y="231.6" width="1" height="19.2" fill="#f23645"/>
<rect x="149" y="233.3" width="3" height="9.4" fill="#f23645"/>
<rect x="154" y="227.0" width="1" height="16.9" fill="#089981"/>
<rect x="153" y="235.1" width="3" height="8.2" fill="#089981"/>
<rect x="158" y="233.9" width="1" height="10.0" fill="#f23645"/>
<rect x="157" y="235.8" width="3" height="5.0" fill="#f23645"/>
<rect x="162" y="236.1" width="1" height="9.7" fill="#f23645"/>
<rect x="161" y="240.2" width="3" height="5.0" fill="#f23645"/>
<rect x="167" y="219.1" width="1" height="27.9" fill="#089981"/>
<rect x="166" y="233.3" width="3" height="11.9" fill="#089981"/>
<rect x="171" y="231.6" width="1" height="20.1" fill="#f23645"/>
<rect x="170" y="232.6" width="3" height="10.7" fill="#f23645"/>
<rect x="175" y="234.1" width="1" height="10.8" fill="#089981"/>
<rect x="174" y="235.1" width="3" height="9.1" fill="#089981"/>
<rect x="179" y="230.1" width="1" height="7.8" fill="#089981"/>
<rect x="178" y="233.9" width="3" height="3.7" fill="#089981"/>
<rect x="183" y="220.1" width="1" height="29.4" fill="#f23645"/>
<rect x="182" y="234.1" width="3" height="10.4" fill="#f23645"/>
<rect x="188" y="226.1" width="1" height="19.1" fill="#089981"/>
<rect x="187" y="231.1" width="3" height="13.4" fill="#089981"/>
<rect x="192" y="218.2" width="1" height="14.6" fill="#089981"/>
<rect x="191" y="223.2" width="3" height="8.8" fill="#089981"/>
<rect x="196" y="221.1" width="1" height="47.6" fill="#f23645"/>
<rect x="195" y="222.6" width="3" height="42.1" fill="#f23645"/>
<rect x="200" y="261.3" width="1" height="28.2" fill="#f23645"/>
<rect x="199" y="264.3" width="3" height="2.2" fill="#f23645"/>
<rect x="205" y="264.4" width="1" height="33.2" fill="#f23645"/>
<rect x="204" y="266.3" width="3" height="21.3" fill="#f23645"/>
<rect x="209" y="281.3" width="1" height="19.4" fill="#f23645"/>
<rect x="208" y="287.0" width="3" height="4.6" fill="#f23645"/>
<rect x="213" y="290.3" width="1" height="30.5" fill="#f23645"/>
<rect x="212" y="290.7" width="3" height="10.0" fill="#f23645"/>
<rect x="217" y="294.1" width="1" height="18.5" fill="#f23645"/>
<rect x="216" y="300.1" width="3" height="3.8" fill="#f23645"/>
<rect x="222" y="259.0" width="1" height="49.9" fill="#089981"/>
<rect x="221" y="263.1" width="3" height="40.8" fill="#089981"/>
<rect x="226" y="261.9" width="1" height="55.8" fill="#f23645"/>
<rect x="225" y="262.5" width="3" height="50.1" fill="#f23645"/>
<rect x="230" y="302.0" width="1" height="29.7" fill="#089981"/>
<rect x="229" y="309.1" width="3" height="3.8" fill="#089981"/>
<rect x="234" y="295.1" width="1" height="15.7" fill="#089981"/>
<rect x="233" y="300.1" width="3" height="10.0" fill="#089981"/>
<rect x="239" y="288.8" width="1" height="18.8" fill="#f23645"/>
<rect x="238" y="300.1" width="3" height="5.7" fill="#f23645"/>
<rect x="243" y="297.0" width="1" height="20.7" fill="#f23645"/>
<rect x="242" y="305.1" width="3" height="8.8" fill="#f23645"/>
<rect x="247" y="300.1" width="1" height="17.6" fill="#089981"/>
<rect x="246" y="305.1" width="3" height="8.8" fill="#089981"/>
<rect x="251" y="303.2" width="1" height="29.5" fill="#f23645"/>
<rect x="250" y="304.9" width="3" height="25.3" fill="#f23645"/>
<rect x="256" y="311.1" width="1" height="43.9" fill="#f23645"/>
<rect x="255" y="329.6" width="3" height="20.0" fill="#f23645"/>
<rect x="260" y="336.2" width="1" height="19.8" fill="#089981"/>
<rect x="259" y="341.2" width="3" height="8.4" fill="#089981"/>
<rect x="264" y="337.1" width="1" height="16.3" fill="#f23645"/>
<rect x="263" y="341.2" width="3" height="2.5" fill="#f23645"/>
<rect x="268" y="341.2" width="1" height="14.8" fill="#f23645"/>
<rect x="267" y="343.3" width="3" height="6.3" fill="#f23645"/>
<rect x="272" y="339.2" width="1" height="12.8" fill="#089981"/>
<rect x="271" y="343.3" width="3" height="6.3" fill="#089981"/>
<rect x="277" y="337.1" width="1" height="6.9" fill="#089981"/>
<rect x="276" y="340.2" width="3" height="3.1" fill="#089981"/>
<rect x="281" y="339.2" width="1" height="10.4" fill="#f23645"/>
<rect x="280" y="340.2" width="3" height="6.9" fill="#f23645"/>
<rect x="285" y="338.0" width="1" height="9.1" fill="#089981"/>
<rect x="284" y="340.5" width="3" height="5.9" fill="#089981"/>
<rect x="289" y="340.4" width="1" height="7.2" fill="#089981"/>
<rect x="288" y="340.4" width="3" height="1.0" fill="#089981"/>
<rect x="294" y="322.3" width="1" height="18.4" fill="#089981"/>
<rect x="293" y="323.8" width="3" height="16.9" fill="#089981"/>
<rect x="298" y="322.3" width="1" height="15.3" fill="#f23645"/>
<rect x="297" y="324.4" width="3" height="9.4" fill="#f23645"/>
<rect x="302" y="332.0" width="1" height="7.8" fill="#f23645"/>
<rect x="301" y="333.2" width="3" height="3.1" fill="#f23645"/>
<rect x="306" y="332.0" width="1" height="4.6" fill="#089981"/>
<rect x="305" y="333.8" width="3" height="2.8" fill="#089981"/>
<rect x="311" y="329.4" width="1" height="5.1" fill="#089981"/>
<rect x="310" y="331.1" width="3" height="3.4" fill="#089981"/>
<rect x="315" y="318.2" width="1" height="15.4" fill="#089981"/>
<rect x="314" y="321.0" width="3" height="11.0" fill="#089981"/>
<rect x="319" y="318.2" width="1" height="7.5" fill="#f23645"/>
<rect x="318" y="321.3" width="3" height="2.8" fill="#f23645"/>
<rect x="323" y="321.0" width="1" height="12.8" fill="#f23645"/>
<rect x="322" y="323.2" width="3" height="6.9" fill="#f23645"/>
<rect x="328" y="326.3" width="1" height="6.5" fill="#f23645"/>
<rect x="327" y="330.1" width="3" height="1.2" fill="#f23645"/>
<rect x="332" y="329.4" width="1" height="20.1" fill="#f23645"/>
<rect x="331" y="330.7" width="3" height="15.0" fill="#f23645"/>
<rect x="336" y="343.2" width="1" height="14.4" fill="#f23645"/>
<rect x="335" y="344.9" width="3" height="9.6" fill="#f23645"/>
<rect x="340" y="351.1" width="1" height="10.6" fill="#f23645"/>
<rect x="339" y="354.1" width="3" height="3.5" fill="#f23645"/>
<rect x="345" y="351.4" width="1" height="9.4" fill="#089981"/>
<rect x="344" y="355.1" width="3" height="1.9" fill="#089981"/>
<rect x="349" y="341.1" width="1" height="14.3" fill="#089981"/>
<rect x="348" y="344.5" width="3" height="10.9" fill="#089981"/>
<rect x="353" y="337.3" width="1" height="22.6" fill="#f23645"/>
<rect x="352" y="344.1" width="3" height="14.8" fill="#f23645"/>
<rect x="357" y="352.0" width="1" height="11.7" fill="#089981"/>
<rect x="356" y="355.1" width="3" height="3.8" fill="#089981"/>
<rect x="361" y="353.3" width="1" height="9.4" fill="#f23645"/>
<rect x="360" y="354.9" width="3" height="1.0" fill="#f23645"/>
<rect x="366" y="354.1" width="1" height="7.6" fill="#f23645"/>
<rect x="365" y="355.1" width="3" height="2.5" fill="#f23645"/>
<rect x="370" y="354.8" width="1" height="36.9" fill="#f23645"/>
<rect x="369" y="356.3" width="3" height="31.3" fill="#f23645"/>
<rect x="374" y="379.1" width="1" height="29.6" fill="#f23645"/>
<rect x="373" y="387.0" width="3" height="3.8" fill="#f23645"/>
<rect x="378" y="382.0" width="1" height="22.9" fill="#f23645"/>
<rect x="377" y="390.2" width="3" height="11.2" fill="#f23645"/>
<rect x="383" y="372.4" width="1" height="39.7" fill="#089981"/>
<rect x="382" y="375.1" width="3" height="26.6" fill="#089981"/>
<rect x="387" y="374.9" width="1" height="25.5" fill="#f23645"/>
<rect x="386" y="375.1" width="3" height="19.4" fill="#f23645"/>
<rect x="391" y="385.1" width="1" height="11.3" fill="#089981"/>
<rect x="390" y="387.9" width="3" height="7.0" fill="#089981"/>
<rect x="395" y="375.1" width="1" height="15.7" fill="#089981"/>
<rect x="394" y="378.2" width="3" height="10.7" fill="#089981"/>
<rect x="400" y="378.2" width="1" height="10.7" fill="#f23645"/>
<rect x="399" y="378.2" width="3" height="6.3" fill="#f23645"/>
<rect x="404" y="372.0" width="1" height="12.5" fill="#089981"/>
<rect x="403" y="381.1" width="3" height="3.4" fill="#089981"/>
<rect x="408" y="376.1" width="1" height="10.5" fill="#f23645"/>
<rect x="407" y="381.1" width="3" height="5.5" fill="#f23645"/>
<rect x="412" y="382.0" width="1" height="9.7" fill="#f23645"/>
<rect x="411" y="386.1" width="3" height="1.8" fill="#f23645"/>
<rect x="417" y="382.0" width="1" height="6.6" fill="#089981"/>
<rect x="416" y="386.1" width="3" height="1.0" fill="#089981"/>
<rect x="421" y="384.1" width="1" height="3.8" fill="#089981"/>
<rect x="420" y="385.8" width="3" height="1.2" fill="#089981"/>
<rect x="425" y="380.1" width="1" height="6.5" fill="#089981"/>
<rect x="424" y="382.0" width="3" height="4.4" fill="#089981"/>
<rect x="429" y="382.0" width="1" height="6.6" fill="#f23645"/>
<rect x="428" y="382.4" width="3" height="4.2" fill="#f23645"/>
<rect x="434" y="376.1" width="1" height="12.2" fill="#f23645"/>
<rect x="433" y="386.4" width="3" height="1.5" fill="#f23645"/>
<rect x="438" y="361.1" width="1" height="30.6" fill="#089981"/>
<rect x="437" y="362.8" width="3" height="24.8" fill="#089981"/>
<rect x="442" y="353.2" width="1" height="11.3" fill="#089981"/>
<rect x="441" y="358.2" width="3" height="5.6" fill="#089981"/>
<rect x="446" y="356.9" width="1" height="10.7" fill="#f23645"/>
<rect x="445" y="358.2" width="3" height="4.6" fill="#f23645"/>
<rect x="450" y="354.1" width="1" height="11.6" fill="#089981"/>
<rect x="449" y="360.1" width="3" height="2.5" fill="#089981"/>
<rect x="455" y="352.3" width="1" height="8.4" fill="#089981"/>
<rect x="454" y="355.1" width="3" height="5.2" fill="#089981"/>
<rect x="459" y="349.8" width="1" height="10.0" fill="#f23645"/>
<rect x="458" y="355.1" width="3" height="4.3" fill="#f23645"/>
<rect x="463" y="352.8" width="1" height="11.9" fill="#089981"/>
<rect x="462" y="357.2" width="3" height="2.6" fill="#089981"/>
<rect x="467" y="351.9" width="1" height="7.9" fill="#f23645"/>
<rect x="466" y="354.9" width="3" height="4.9" fill="#f23645"/>
<rect x="472" y="355.4" width="1" height="11.1" fill="#f23645"/>
<rect x="471" y="358.1" width="3" height="1.0" fill="#f23645"/>
<rect x="476" y="347.9" width="1" height="11.9" fill="#089981"/>
<rect x="475" y="353.2" width="3" height="6.6" fill="#089981"/>
<rect x="480" y="347.9" width="1" height="8.1" fill="#089981"/>
<rect x="479" y="351.9" width="3" height="1.8" fill="#089981"/>
<rect x="484" y="351.0" width="1" height="4.4" fill="#f23645"/>
<rect x="483" y="351.9" width="3" height="1.8" fill="#f23645"/>
<rect x="489" y="351.9" width="1" height="6.2" fill="#f23645"/>
<rect x="488" y="352.8" width="3" height="4.9" fill="#f23645"/>
<rect x="493" y="353.2" width="1" height="6.6" fill="#089981"/>
<rect x="492" y="354.9" width="3" height="2.8" fill="#089981"/>
<rect x="497" y="354.9" width="1" height="8.8" fill="#f23645"/>
<rect x="496" y="354.9" width="3" height="1.1" fill="#f23645"/>
<rect x="501" y="351.9" width="1" height="7.0" fill="#f23645"/>
<rect x="500" y="354.9" width="3" height="1.4" fill="#f23645"/>
<rect x="506" y="301.9" width="1" height="54.8" fill="#089981"/>
<rect x="505" y="304.0" width="3" height="52.7" fill="#089981"/>
<rect x="510" y="266.8" width="1" height="40.4" fill="#089981"/>
<rect x="509" y="286.1" width="3" height="19.7" fill="#089981"/>
<rect x="514" y="251.9" width="1" height="37.7" fill="#089981"/>
<rect x="513" y="254.9" width="3" height="32.1" fill="#089981"/>
<rect x="518" y="251.4" width="1" height="22.5" fill="#f23645"/>
<rect x="517" y="254.9" width="3" height="9.8" fill="#f23645"/>
<rect x="523" y="249.6" width="1" height="28.1" fill="#f23645"/>
<rect x="522" y="264.2" width="3" height="2.6" fill="#f23645"/>
<rect x="527" y="233.9" width="1" height="42.6" fill="#089981"/>
<rect x="526" y="241.9" width="3" height="24.9" fill="#089981"/>
<rect x="531" y="236.7" width="1" height="22.2" fill="#f23645"/>
<rect x="530" y="241.9" width="3" height="9.2" fill="#f23645"/>
<rect x="535" y="246.1" width="1" height="22.1" fill="#f23645"/>
<rect x="534" y="251.1" width="3" height="8.4" fill="#f23645"/>
<rect x="539" y="246.1" width="1" height="15.8" fill="#f23645"/>
<rect x="538" y="258.9" width="3" height="2.7" fill="#f23645"/>
<rect x="544" y="259.8" width="1" height="12.7" fill="#f23645"/>
<rect x="543" y="260.7" width="3" height="8.8" fill="#f23645"/>
<rect x="548" y="253.9" width="1" height="35.1" fill="#089981"/>
<rect x="547" y="265.8" width="3" height="3.7" fill="#089981"/>
<rect x="552" y="259.1" width="1" height="25.8" fill="#089981"/>
<rect x="551" y="262.0" width="3" height="4.4" fill="#089981"/>
<rect x="556" y="254.1" width="1" height="18.6" fill="#f23645"/>
<rect x="555" y="262.0" width="3" height="1.0" fill="#f23645"/>
<rect x="561" y="249.8" width="1" height="20.1" fill="#089981"/>
<rect x="560" y="259.1" width="3" height="3.5" fill="#089981"/>
<rect x="565" y="240.1" width="1" height="19.4" fill="#089981"/>
<rect x="564" y="244.1" width="3" height="15.4" fill="#089981"/>
<rect x="569" y="236.9" width="1" height="28.9" fill="#f23645"/>
<rect x="568" y="244.1" width="3" height="18.5" fill="#f23645"/>
<rect x="573" y="255.1" width="1" height="7.5" fill="#089981"/>
<rect x="572" y="261.1" width="3" height="1.0" fill="#089981"/>
<rect x="578" y="258.2" width="1" height="11.3" fill="#089981"/>
<rect x="577" y="259.1" width="3" height="2.5" fill="#089981"/>
<rect x="582" y="252.4" width="1" height="9.2" fill="#089981"/>
<rect x="581" y="257.4" width="3" height="2.1" fill="#089981"/>
<rect x="586" y="238.2" width="1" height="25.4" fill="#089981"/>
<rect x="585" y="244.1" width="3" height="13.5" fill="#089981"/>
<rect x="590" y="241.1" width="1" height="9.3" fill="#089981"/>
<rect x="589" y="242.0" width="3" height="2.8" fill="#089981"/>
<rect x="595" y="228.2" width="1" height="20.6" fill="#f23645"/>
<rect x="594" y="242.3" width="3" height="6.5" fill="#f23645"/>
<rect x="599" y="246.3" width="1" height="18.2" fill="#f23645"/>
<rect x="598" y="248.2" width="3" height="13.2" fill="#f23645"/>
<rect x="603" y="259.1" width="1" height="9.5" fill="#f23645"/>
<rect x="602" y="260.8" width="3" height="1.0" fill="#f23645"/>
<rect x="607" y="259.1" width="1" height="10.8" fill="#089981"/>
<rect x="606" y="260.1" width="3" height="2.5" fill="#089981"/>
<rect x="611" y="249.8" width="1" height="18.8" fill="#089981"/>
<rect x="610" y="250.7" width="3" height="9.7" fill="#089981"/>
<rect x="616" y="245.1" width="1" height="10.3" fill="#f23645"/>
<rect x="615" y="251.1" width="3" height="2.5" fill="#f23645"/>
<rect x="620" y="242.0" width="1" height="11.6" fill="#089981"/>
<rect x="619" y="251.1" width="3" height="2.5" fill="#089981"/>
<rect x="624" y="247.0" width="1" height="32.5" fill="#f23645"/>
<rect x="623" y="250.7" width="3" height="27.0" fill="#f23645"/>
<rect x="628" y="261.1" width="1" height="19.7" fill="#089981"/>
<rect x="627" y="268.9" width="3" height="8.8" fill="#089981"/>
<rect x="633" y="260.1" width="1" height="9.8" fill="#089981"/>
<rect x="632" y="262.0" width="3" height="7.5" fill="#089981"/>
<rect x="637" y="259.1" width="1" height="7.5" fill="#f23645"/>
<rect x="636" y="262.4" width="3" height="2.7" fill="#f23645"/>
<rect x="641" y="240.1" width="1" height="27.5" fill="#089981"/>
<rect x="640" y="242.0" width="3" height="22.5" fill="#089981"/>
<rect x="645" y="222.3" width="1" height="22.2" fill="#089981"/>
<rect x="644" y="224.0" width="3" height="18.8" fill="#089981"/>
<rect x="650" y="216.2" width="1" height="16.6" fill="#f23645"/>
<rect x="649" y="223.8" width="3" height="6.9" fill="#f23645"/>
<rect x="654" y="227.9" width="1" height="20.7" fill="#f23645"/>
<rect x="653" y="230.0" width="3" height="18.3" fill="#f23645"/>
<rect x="658" y="246.1" width="1" height="27.6" fill="#f23645"/>
<rect x="657" y="247.0" width="3" height="8.5" fill="#f23645"/>
<rect x="662" y="254.8" width="1" height="11.8" fill="#f23645"/>
<rect x="661" y="255.2" width="3" height="6.5" fill="#f23645"/>
<rect x="667" y="258.3" width="1" height="8.3" fill="#089981"/>
<rect x="666" y="259.0" width="3" height="2.3" fill="#089981"/>
<rect x="671" y="242.4" width="1" height="21.4" fill="#f23645"/>
<rect x="670" y="259.0" width="3" height="1.0" fill="#f23645"/>
<rect x="675" y="250.0" width="1" height="19.6" fill="#f23645"/>
<rect x="674" y="260.3" width="3" height="4.9" fill="#f23645"/>
<rect x="679" y="259.4" width="1" height="10.2" fill="#089981"/>
<rect x="678" y="262.1" width="3" height="2.4" fill="#089981"/>
<rect x="684" y="259.4" width="1" height="7.2" fill="#f23645"/>
<rect x="683" y="262.1" width="3" height="1.0" fill="#f23645"/>
<rect x="688" y="256.2" width="1" height="26.6" fill="#f23645"/>
<rect x="687" y="263.5" width="3" height="14.8" fill="#f23645"/>
<rect x="692" y="272.8" width="1" height="29.9" fill="#f23645"/>
<rect x="691" y="277.6" width="3" height="15.2" fill="#f23645"/>
<rect x="696" y="290.0" width="1" height="24.8" fill="#f23645"/>
<rect x="695" y="292.1" width="3" height="9.6" fill="#f23645"/>
<rect x="700" y="273.7" width="1" height="32.9" fill="#089981"/>
<rect x="699" y="274.8" width="3" height="26.9" fill="#089981"/>
<rect x="705" y="268.2" width="1" height="13.5" fill="#089981"/>
<rect x="704" y="272.3" width="3" height="5.3" fill="#089981"/>
<rect x="709" y="270.7" width="1" height="9.0" fill="#f23645"/>
<rect x="708" y="272.3" width="3" height="3.9" fill="#f23645"/>
<rect x="713" y="263.1" width="1" height="15.6" fill="#f23645"/>
<rect x="712" y="273.7" width="3" height="1.0" fill="#f23645"/>
<rect x="717" y="272.1" width="1" height="8.2" fill="#089981"/>
<rect x="716" y="274.8" width="3" height="1.4" fill="#089981"/>
<rect x="722" y="272.1" width="1" height="5.5" fill="#089981"/>
<rect x="721" y="273.7" width="3" height="2.5" fill="#089981"/>
<rect x="726" y="262.1" width="1" height="14.1" fill="#089981"/>
<rect x="725" y="264.9" width="3" height="9.9" fill="#089981"/>
<rect x="730" y="262.1" width="1" height="10.0" fill="#f23645"/>
<rect x="729" y="265.2" width="3" height="2.5" fill="#f23645"/>
<rect x="734" y="265.2" width="1" height="14.1" fill="#f23645"/>
<rect x="733" y="266.8" width="3" height="11.5" fill="#f23645"/>
<rect x="739" y="250.1" width="1" height="31.7" fill="#089981"/>
<rect x="738" y="256.0" width="3" height="22.5" fill="#089981"/>
<rect x="743" y="247.9" width="1" height="10.0" fill="#089981"/>
<rect x="742" y="253.1" width="3" height="3.9" fill="#089981"/>
<rect x="747" y="252.0" width="1" height="16.6" fill="#f23645"/>
<rect x="746" y="253.1" width="3" height="11.3" fill="#f23645"/>
<rect x="751" y="261.7" width="1" height="5.2" fill="#089981"/>
<rect x="750" y="262.8" width="3" height="2.0" fill="#089981"/>
<rect x="756" y="252.0" width="1" height="12.8" fill="#089981"/>
<rect x="755" y="255.9" width="3" height="8.2" fill="#089981"/>
<rect x="760" y="254.2" width="1" height="9.2" fill="#f23645"/>
<rect x="759" y="255.9" width="3" height="4.8" fill="#f23645"/>
<rect x="764" y="250.1" width="1" height="11.9" fill="#089981"/>
<rect x="763" y="250.1" width="3" height="11.3" fill="#089981"/>
<rect x="768" y="227.2" width="1" height="26.2" fill="#089981"/>
<rect x="767" y="229.9" width="3" height="20.2" fill="#089981"/>
<rect x="773" y="200.4" width="1" height="31.7" fill="#089981"/>
<rect x="772" y="206.2" width="3" height="25.1" fill="#089981"/>
<rect x="777" y="193.8" width="1" height="17.2" fill="#089981"/>
<rect x="776" y="205.1" width="3" height="1.0" fill="#089981"/>
<rect x="781" y="201.8" width="1" height="9.2" fill="#f23645"/>
<rect x="780" y="205.1" width="3" height="2.3" fill="#f23645"/>
<rect x="785" y="197.2" width="1" height="10.5" fill="#089981"/>
<rect x="784" y="202.8" width="3" height="4.6" fill="#089981"/>
<rect x="789" y="189.0" width="1" height="15.7" fill="#089981"/>
<rect x="788" y="198.3" width="3" height="5.6" fill="#089981"/>
<rect x="794" y="180.9" width="1" height="28.0" fill="#089981"/>
<rect x="793" y="181.2" width="3" height="22.5" fill="#089981"/>
<rect x="798" y="144.0" width="1" height="41.3" fill="#089981"/>
<rect x="797" y="151.1" width="3" height="30.7" fill="#089981"/>
<rect x="802" y="131.2" width="1" height="27.4" fill="#089981"/>
<rect x="801" y="137.0" width="3" height="14.9" fill="#089981"/>
<rect x="806" y="111.2" width="1" height="27.6" fill="#089981"/>
<rect x="805" y="128.2" width="3" height="8.8" fill="#089981"/>
<rect x="811" y="118.9" width="1" height="13.7" fill="#089981"/>
<rect x="810" y="122.1" width="3" height="6.1" fill="#089981"/>
<rect x="815" y="90.9" width="1" height="31.6" fill="#089981"/>
<rect x="814" y="100.2" width="3" height="22.3" fill="#089981"/>
<rect x="819" y="86.7" width="1" height="20.0" fill="#089981"/>
<rect x="818" y="99.0" width="3" height="1.0" fill="#089981"/>
<rect x="823" y="94.0" width="1" height="23.2" fill="#f23645"/>
<rect x="822" y="99.3" width="3" height="2.1" fill="#f23645"/>
<rect x="828" y="99.6" width="1" height="29.9" fill="#f23645"/>
<rect x="827" y="101.1" width="3" height="16.1" fill="#f23645"/>
<rect x="832" y="97.9" width="1" height="34.7" fill="#089981"/>
<rect x="831" y="106.0" width="3" height="11.2" fill="#089981"/>
<rect x="836" y="106.1" width="1" height="13.9" fill="#f23645"/>
<rect x="835" y="106.3" width="3" height="10.2" fill="#f23645"/>
<rect x="805" y="128.5" width="2" height="4.5" fill="#131722"/>
<path d="M12.0,143.8 C15.8,144.8 15.0,145.6 23.3,146.9 C31.6,148.2 28.2,147.1 37.0,147.8 C45.8,148.5 41.2,148.4 49.6,149.1 C58.0,149.8 54.6,149.3 62.1,149.8 C69.6,150.3 65.9,149.6 72.2,150.7 C78.5,151.8 75.1,151.7 80.9,153.2 C86.7,154.7 84.3,154.3 89.7,155.1 C95.1,155.9 93.8,155.0 97.2,155.7 C100.6,156.4 92.8,153.1 100.0,157.2 C107.2,161.3 109.4,161.8 118.8,167.9 C128.2,174.0 121.9,170.8 128.2,175.4 C134.5,180.0 130.1,177.2 137.6,181.6 C145.1,186.0 139.5,183.4 150.8,188.5 C162.1,193.6 158.3,192.0 171.4,197.0 C184.5,202.0 181.4,200.5 190.2,203.6 C199.0,206.7 190.2,201.4 197.7,206.4 C205.2,211.4 204.6,213.0 212.8,218.6 C221.0,224.2 215.9,219.5 222.2,223.3 C228.5,227.1 222.2,223.6 231.6,229.9 C241.0,236.2 239.1,233.0 250.4,242.1 C261.7,251.2 256.0,248.6 265.4,257.1 C274.8,265.6 271.1,262.2 278.6,267.5 C286.1,272.8 280.9,269.0 288.0,273.1 C295.1,277.2 295.4,277.0 300.0,279.7 C304.6,282.4 297.9,279.3 301.8,281.1 C305.7,282.9 306.3,283.3 311.6,285.2 C316.9,287.1 313.1,285.3 317.6,286.9 C322.1,288.5 319.6,287.5 325.1,290.1 C330.6,292.7 329.1,292.1 334.1,294.6 C339.1,297.1 336.5,295.6 340.0,297.5 C343.5,299.4 341.5,298.8 344.5,300.2 C347.5,301.6 345.0,299.8 349.0,301.7 C353.0,303.6 352.0,303.7 356.5,305.8 C361.0,307.9 358.1,305.7 362.6,308.0 C367.1,310.3 365.1,309.0 370.1,312.6 C375.1,316.2 374.3,316.4 377.6,318.9 C380.9,321.4 376.7,318.2 380.0,320.1 C383.3,322.0 381.2,321.2 387.5,324.5 C393.8,327.8 388.8,324.9 398.8,330.1 C408.8,335.3 406.3,334.9 417.6,340.1 C428.9,345.3 420.1,343.1 432.6,345.8 C445.1,348.5 441.0,346.9 455.2,348.3 C469.4,349.7 460.2,349.1 475.2,349.9 C490.2,350.7 490.3,351.1 500.3,350.8 C510.3,350.5 500.3,352.0 505.3,348.9 C510.3,345.8 509.0,345.8 515.3,341.4 C521.6,337.0 519.1,339.7 524.1,335.7 C529.1,331.7 525.0,333.7 530.4,329.5 C535.8,325.3 532.9,327.6 540.4,323.2 C547.9,318.8 543.7,321.1 552.9,316.3 C562.1,311.5 559.0,313.2 568.0,308.8 C577.0,304.4 571.4,307.5 580.0,303.2 C588.6,298.9 584.7,299.7 593.9,295.8 C603.1,291.9 598.9,294.0 607.7,291.4 C616.5,288.8 611.0,290.1 620.2,287.9 C629.4,285.7 628.1,286.7 635.2,284.9 C642.3,283.1 636.9,284.8 641.5,282.6 C646.1,280.4 642.7,280.3 649.0,278.2 C655.3,276.1 652.4,277.6 660.3,276.4 C668.2,275.2 664.9,275.4 672.8,274.5 C680.7,273.6 679.1,273.8 684.1,273.6 C689.1,273.4 683.7,273.3 687.9,273.9 C692.1,274.5 687.4,274.9 696.6,275.4 C705.8,275.9 700.9,275.6 715.4,275.4 C729.9,275.2 727.0,275.9 740.0,274.9 C753.0,273.9 745.5,274.3 754.3,272.5 C763.1,270.7 759.3,272.0 766.3,269.5 C773.3,267.0 769.3,268.0 775.3,265.0 C781.3,262.0 778.4,263.6 784.4,260.5 C790.4,257.4 788.4,259.1 793.4,255.6 C798.4,252.1 794.4,255.5 799.4,249.9 C804.4,244.3 801.4,247.3 808.4,238.8 C815.4,230.3 813.5,232.2 820.5,224.4 C827.5,216.6 824.5,220.3 829.5,215.3 C834.5,210.3 833.5,211.3 835.5,209.3" fill="none" stroke="#ff0000" stroke-width="2.8" stroke-linecap="round"/>
<rect x="441" y="48" width="2" height="2" fill="#8dcf91"/>
<rect x="157" y="87" width="2" height="2" fill="#8dcf91"/>
<rect x="267" y="87" width="2" height="2" fill="#8dcf91"/>
<rect x="428" y="154" width="2" height="2" fill="#8dcf91"/>
<rect x="280" y="171" width="2" height="2" fill="#8dcf91"/>
<rect x="450" y="268" width="2" height="2" fill="#8dcf91"/>
<rect x="657" y="337" width="2" height="2" fill="#8dcf91"/>
<rect x="246" y="258" width="2" height="2" fill="#f4979d"/>
<rect x="204" y="304" width="2" height="2" fill="#f4979d"/>
<rect x="496" y="275" width="2" height="2" fill="#f4979d"/>
<rect x="538" y="310" width="2" height="2" fill="#f4979d"/>
<rect x="822" y="258" width="2" height="2" fill="#f4979d"/>
<rect x="792" y="310" width="2" height="2" fill="#f4979d"/>
<line x1="13" y1="4" x2="1719" y2="4" stroke="#2962ff" stroke-width="2" stroke-dasharray="10 12"/>
<line x1="13" y1="68" x2="1719" y2="68" stroke="#8c0aa4" stroke-width="2" stroke-dasharray="2 4"/>
<line x1="13" y1="103" x2="1719" y2="103" stroke="#f23645" stroke-width="2" stroke-dasharray="10 12"/>
<line x1="13" y1="117.5" x2="1719" y2="117.5" stroke="#f23645" stroke-width="1" stroke-dasharray="1 2"/>
<line x1="13" y1="134" x2="1719" y2="134" stroke="#2962ff" stroke-width="2" stroke-dasharray="10 12"/>
<line x1="13" y1="200" x2="1719" y2="200" stroke="#2962ff" stroke-width="2" stroke-dasharray="10 12"/>
<line x1="103" y1="236" x2="1719" y2="236" stroke="#b2b2b2" stroke-width="2" stroke-dasharray="10 12"/>
<line x1="514" y1="271" x2="1719" y2="271" stroke="#b2b2b2" stroke-width="2" stroke-dasharray="10 12"/>
<line x1="13" y1="331" x2="1719" y2="331" stroke="#2962ff" stroke-width="2" stroke-dasharray="10 12"/>
<line x1="13" y1="404" x2="1719" y2="404" stroke="#000000" stroke-width="2" stroke-dasharray="10 12"/>
<line x1="13" y1="424" x2="1719" y2="424" stroke="#8c0aa4" stroke-width="2" stroke-dasharray="2 4"/>
</g>
<rect x="534" y="452" width="2" height="1.5" fill="#f4979d"/>
<line x1="382.5" y1="86.5" x2="1073.5" y2="86.5" stroke="#000" stroke-width="1"/>
<line x1="382.5" y1="211.5" x2="1073.5" y2="211.5" stroke="#000" stroke-width="1"/>
<line x1="382.5" y1="249.5" x2="1073.5" y2="249.5" stroke="#000" stroke-width="1"/>
<line x1="382.5" y1="412.5" x2="1073.5" y2="412.5" stroke="#000" stroke-width="1"/>
<line x1="382.5" y1="412.5" x2="1094.5" y2="193.3" stroke="#000" stroke-width="2.2"/>
<path d="M879.7,100 C895,88 905,75 917,75.4 C930,76 950,97 965,96.4 C978,96 990,75 997.3,58.9" fill="none" stroke="#4caf50" stroke-width="1.3"/>
<path d="M927,138.8 C940,152 952,161 966.4,161 C978,161 988,150 995.6,149.7 C1005,150 1010,171 1023.5,171.2 C1033,171 1043,163 1048.8,164 C1058,166 1070,190 1078,200.1" fill="none" stroke="#f23645" stroke-width="1.3"/>
<line x1="13" y1="435.5" x2="1800" y2="435.5" stroke="#e0e3eb" stroke-width="1"/>
<line x1="13" y1="474.5" x2="1800" y2="474.5" stroke="#e0e3eb" stroke-width="1"/>
<line x1="13" y1="608.5" x2="1800" y2="608.5" stroke="#e0e3eb" stroke-width="1"/>
<line x1="13" y1="715.5" x2="1719" y2="715.5" stroke="#e0e3eb" stroke-width="1"/>
<rect x="12" y="-5" width="2" height="760" fill="#f3f3f3"/>
<rect x="1800" y="-5" width="2" height="760" fill="#f3f3f3"/>
<rect x="12" y="753" width="1790" height="2" fill="#f3f3f3"/>
<text x="23.1" y="20.8" font-size="15.6" fill="#131722" text-anchor="start" font-weight="normal" textLength="64.90" lengthAdjust="spacingAndGlyphs" >Ethereum</text>
<text x="96.3" y="20.8" font-size="15.6" fill="#131722" text-anchor="middle" font-weight="normal" >/</text>
<text x="104.5" y="20.8" font-size="15.6" fill="#131722" text-anchor="start" font-weight="normal" textLength="60.80" lengthAdjust="spacingAndGlyphs" >TetherUS</text>
<text x="172.1" y="20.8" font-size="15.6" fill="#131722" text-anchor="middle" font-weight="normal" >·</text>
<text x="180.1" y="20.8" font-size="15.6" fill="#131722" text-anchor="start" font-weight="normal" textLength="16.40" lengthAdjust="spacingAndGlyphs" >1D</text>
<text x="204.1" y="20.8" font-size="15.6" fill="#131722" text-anchor="middle" font-weight="normal" >·</text>
<text x="211.3" y="20.8" font-size="15.6" fill="#131722" text-anchor="start" font-weight="normal" textLength="57.40" lengthAdjust="spacingAndGlyphs" >BINANCE</text>
<text x="278.2" y="20.8" font-size="15.6" fill="#131722" text-anchor="start" font-weight="normal" textLength="11.34" lengthAdjust="spacingAndGlyphs" >O</text>
<text x="288.6" y="20.8" font-size="15.6" fill="#f23645" text-anchor="start" font-weight="normal" textLength="56.80" lengthAdjust="spacingAndGlyphs" >3,706.95</text>
<text x="355.5" y="20.8" font-size="15.6" fill="#131722" text-anchor="start" font-weight="normal" textLength="10.55" lengthAdjust="spacingAndGlyphs" >H</text>
<text x="365.4" y="20.8" font-size="15.6" fill="#f23645" text-anchor="start" font-weight="normal" textLength="56.30" lengthAdjust="spacingAndGlyphs" >3,708.21</text>
<text x="432.7" y="20.8" font-size="15.6" fill="#131722" text-anchor="start" font-weight="normal" textLength="8.11" lengthAdjust="spacingAndGlyphs" >L</text>
<text x="441.5" y="20.8" font-size="15.6" fill="#f23645" text-anchor="start" font-weight="normal" textLength="56.00" lengthAdjust="spacingAndGlyphs" >3,602.52</text>
<text x="507.4" y="20.8" font-size="15.6" fill="#131722" text-anchor="start" font-weight="normal" textLength="10.55" lengthAdjust="spacingAndGlyphs" >C</text>
<text x="517.5" y="20.8" font-size="15.6" fill="#f23645" text-anchor="start" font-weight="normal" textLength="56.20" lengthAdjust="spacingAndGlyphs" >3,629.02</text>
<text x="584.5" y="20.8" font-size="15.6" fill="#f23645" text-anchor="start" font-weight="normal" textLength="104.50" lengthAdjust="spacingAndGlyphs" >−77.92 (−2.10%)</text>
<rect x="1724.5" y="1.5" width="71" height="31" rx="5" fill="#fff" stroke="#e0e3eb" stroke-width="1"/>
<text x="1735.3" y="22.3" font-size="15.6" fill="#131722" text-anchor="start" font-weight="normal" textLength="35.00" lengthAdjust="spacingAndGlyphs" >USDT</text>
<text x="1731.2" y="178.10000000000002" font-size="15.6" fill="#2a2e39" text-anchor="start" font-weight="normal" textLength="58.41" lengthAdjust="spacingAndGlyphs" stroke="#2a2e39" stroke-width="0.25">3,200.00</text>
<text x="1731.2" y="282.8" font-size="15.6" fill="#2a2e39" text-anchor="start" font-weight="normal" textLength="58.41" lengthAdjust="spacingAndGlyphs" stroke="#2a2e39" stroke-width="0.25">2,400.00</text>
<text x="1731.2" y="388.0" font-size="15.6" fill="#2a2e39" text-anchor="start" font-weight="normal" textLength="58.41" lengthAdjust="spacingAndGlyphs" stroke="#2a2e39" stroke-width="0.25">1,600.00</text>
<text x="1731.2" y="557.3" font-size="15.6" fill="#2a2e39" text-anchor="start" font-weight="normal" textLength="37.55" lengthAdjust="spacingAndGlyphs" stroke="#2a2e39" stroke-width="0.25">50.00</text>
<text x="1731.2" y="600.3" font-size="15.6" fill="#2a2e39" text-anchor="start" font-weight="normal" textLength="37.55" lengthAdjust="spacingAndGlyphs" stroke="#2a2e39" stroke-width="0.25">25.00</text>
<clipPath id="c250"><rect x="1720" y="609" width="80" height="109.2"/></clipPath>
<g clip-path="url(#c250)">
<text x="1730.6" y="720.6" font-size="15.6" fill="#2a2e39" text-anchor="start" font-weight="normal" textLength="54.66" lengthAdjust="spacingAndGlyphs" >−250.00</text>
</g>
<path d="M1720,58 H1794 Q1796,58 1796,60 V76.8 Q1796,78.8 1794,78.8 H1720 Z" fill="#9c27b0"/>
<text x="1731.2" y="73.2" font-size="15.6" fill="#fff" text-anchor="start" font-weight="normal" textLength="58.41" lengthAdjust="spacingAndGlyphs" stroke="#fff" stroke-width="0.3">4,000.00</text>
<path d="M1720,85 H1794 Q1796,85 1796,87 V103.5 Q1796,105.5 1794,105.5 H1720 Z" fill="#f23645"/>
<text x="1731.2" y="100.05" font-size="15.6" fill="#fff" text-anchor="start" font-weight="normal" textLength="58.41" lengthAdjust="spacingAndGlyphs" stroke="#fff" stroke-width="0.3">3,730.71</text>
<path d="M1720,107 H1794 Q1796,107 1796,109 V143 Q1796,145 1794,145 H1720 Z" fill="#f23645"/>
<text x="1731.2" y="121.6" font-size="15.6" fill="#fff" text-anchor="start" font-weight="normal" textLength="58.41" lengthAdjust="spacingAndGlyphs" >3,629.02</text>
<text x="1731.2" y="139.4" font-size="15.6" fill="#fbd0d4" text-anchor="start" font-weight="normal" textLength="58.41" lengthAdjust="spacingAndGlyphs" >20:50:53</text>
<path d="M1720,145.2 H1794 Q1796,145.2 1796,147.2 V163.5 Q1796,165.5 1794,165.5 H1720 Z" fill="#2962ff"/>
<text x="1731.2" y="160.15" font-size="15.6" fill="#fff" text-anchor="start" font-weight="normal" textLength="58.41" lengthAdjust="spacingAndGlyphs" stroke="#fff" stroke-width="0.3">3,500.00</text>
<path d="M1720,190 H1794 Q1796,190 1796,192 V208.2 Q1796,210.2 1794,210.2 H1720 Z" fill="#2962ff"/>
<text x="1731.2" y="204.9" font-size="15.6" fill="#fff" text-anchor="start" font-weight="normal" textLength="58.41" lengthAdjust="spacingAndGlyphs" stroke="#fff" stroke-width="0.3">3,000.00</text>
<path d="M1720,211 H1794 Q1796,211 1796,213 V229.2 Q1796,231.2 1794,231.2 H1720 Z" fill="#ff0000"/>
<text x="1731.2" y="225.9" font-size="15.6" fill="#fff" text-anchor="start" font-weight="normal" textLength="58.41" lengthAdjust="spacingAndGlyphs" stroke="#fff" stroke-width="0.3">2,929.91</text>
<path d="M1720,232.3 H1794 Q1796,232.3 1796,234.3 V250.7 Q1796,252.7 1794,252.7 H1720 Z" fill="#b5b5b5"/>
<text x="1731.2" y="247.3" font-size="15.6" fill="#131722" text-anchor="start" font-weight="normal" textLength="58.41" lengthAdjust="spacingAndGlyphs" stroke="#131722" stroke-width="0.3">2,724.96</text>
<path d="M1720,261.4 H1794 Q1796,261.4 1796,263.4 V279.4 Q1796,281.4 1794,281.4 H1720 Z" fill="#b5b5b5"/>
<text x="1731.2" y="276.2" font-size="15.6" fill="#131722" text-anchor="start" font-weight="normal" textLength="58.41" lengthAdjust="spacingAndGlyphs" stroke="#131722" stroke-width="0.3">2,461.00</text>
<path d="M1720,320.8 H1794 Q1796,320.8 1796,322.8 V339.3 Q1796,341.3 1794,341.3 H1720 Z" fill="#2962ff"/>
<text x="1731.2" y="335.85" font-size="15.6" fill="#fff" text-anchor="start" font-weight="normal" textLength="58.41" lengthAdjust="spacingAndGlyphs" stroke="#fff" stroke-width="0.3">2,000.00</text>
<path d="M1720,394.2 H1794 Q1796,394.2 1796,396.2 V412.5 Q1796,414.5 1794,414.5 H1720 Z" fill="#000000"/>
<text x="1731.2" y="409.15000000000003" font-size="15.6" fill="#fff" text-anchor="start" font-weight="normal" textLength="58.41" lengthAdjust="spacingAndGlyphs" stroke="#fff" stroke-width="0.3">1,449.12</text>
<path d="M1720,414.5 H1794 Q1796,414.5 1796,416.5 V432.7 Q1796,434.7 1794,434.7 H1720 Z" fill="#9c27b0"/>
<text x="1731.2" y="429.40000000000003" font-size="15.6" fill="#fff" text-anchor="start" font-weight="normal" textLength="58.41" lengthAdjust="spacingAndGlyphs" stroke="#fff" stroke-width="0.3">1,300.00</text>
<path d="M1720,453.3 H1790.5 Q1792.5,453.3 1792.5,455.3 V471.4 Q1792.5,473.4 1790.5,473.4 H1720 Z" fill="#ef5350"/>
<text x="1731.2" y="468.15000000000003" font-size="15.6" fill="#fff" text-anchor="start" font-weight="normal" textLength="55.89" lengthAdjust="spacingAndGlyphs" stroke="#fff" stroke-width="0.3">130.42K</text>
<path d="M1720,483.4 H1771.4 Q1773.4,483.4 1773.4,485.4 V501.5 Q1773.4,503.5 1771.4,503.5 H1720 Z" fill="#fdd835"/>
<text x="1731.2" y="498.25" font-size="15.6" fill="#131722" text-anchor="start" font-weight="normal" textLength="37.55" lengthAdjust="spacingAndGlyphs" stroke="#131722" stroke-width="0.3">79.62</text>
<path d="M1720,504.5 H1771.4 Q1773.4,504.5 1773.4,506.5 V522.3 Q1773.4,524.3 1771.4,524.3 H1720 Z" fill="#7e57c2"/>
<text x="1731.2" y="519.1999999999999" font-size="15.6" fill="#fff" text-anchor="start" font-weight="normal" textLength="37.55" lengthAdjust="spacingAndGlyphs" stroke="#fff" stroke-width="0.3">72.41</text>
<clipPath id="cm"><rect x="1700" y="609" width="120" height="30"/></clipPath>
<g clip-path="url(#cm)">
<path d="M1720,596 H1779.7 Q1781.7,596 1781.7,598 V614.5 Q1781.7,616.5 1779.7,616.5 H1720 Z" fill="#2962ff"/>
<text x="1731.2" y="611.05" font-size="15.6" fill="#fff" text-anchor="start" font-weight="normal" textLength="45.89" lengthAdjust="spacingAndGlyphs" stroke="#fff" stroke-width="0.3">296.52</text>
</g>
<path d="M1720,618 H1779.7 Q1781.7,618 1781.7,620 V636.5 Q1781.7,638.5 1779.7,638.5 H1720 Z" fill="#ff6d00"/>
<text x="1731.2" y="633.05" font-size="15.6" fill="#fff" text-anchor="start" font-weight="normal" textLength="45.89" lengthAdjust="spacingAndGlyphs" stroke="#fff" stroke-width="0.3">268.25</text>
<path d="M1720,658 H1771 Q1773,658 1773,660 V676.4 Q1773,678.4 1771,678.4 H1720 Z" fill="#b2dfdb"/>
<text x="1731.2" y="673.0" font-size="15.6" fill="#131722" text-anchor="start" font-weight="normal" textLength="37.55" lengthAdjust="spacingAndGlyphs" stroke="#131722" stroke-width="0.3">28.27</text>
<text x="1649" y="94.9" font-size="15.6" fill="#f23645" text-anchor="start" font-weight="normal" textLength="61.00" lengthAdjust="spacingAndGlyphs" >Daily S/R</text>
<text x="1649" y="396" font-size="15" fill="#000000" text-anchor="start" font-weight="bold" textLength="61.00" lengthAdjust="spacingAndGlyphs" >Daily S/R</text>
<text x="1083.4" y="90.9" font-size="15.6" fill="#131722" text-anchor="start" font-weight="normal" textLength="126.30" lengthAdjust="spacingAndGlyphs" >100.00% (3,862.26)</text>
<text x="1083.4" y="215.9" font-size="15.6" fill="#131722" text-anchor="start" font-weight="normal" textLength="118.70" lengthAdjust="spacingAndGlyphs" >61.80% (2,915.97)</text>
<text x="1083.4" y="253.9" font-size="15.6" fill="#131722" text-anchor="start" font-weight="normal" textLength="118.40" lengthAdjust="spacingAndGlyphs" >50.00% (2,623.66)</text>
<text x="1083.4" y="416.9" font-size="15.6" fill="#131722" text-anchor="start" font-weight="normal" textLength="110.70" lengthAdjust="spacingAndGlyphs" >0.00% (1,385.05)</text>
<text x="87.5" y="741.8" font-size="15.4" fill="#131722" text-anchor="start" font-weight="normal" textLength="23.42" lengthAdjust="spacingAndGlyphs" >Feb</text>
<text x="205.9" y="741.8" font-size="15.4" fill="#131722" text-anchor="start" font-weight="normal" textLength="23.42" lengthAdjust="spacingAndGlyphs" >Mar</text>
<text x="338.7" y="741.8" font-size="15.4" fill="#131722" text-anchor="start" font-weight="normal" textLength="21.16" lengthAdjust="spacingAndGlyphs" >Apr</text>
<text x="463.5" y="741.8" font-size="15.4" fill="#131722" text-anchor="start" font-weight="normal" textLength="25.69" lengthAdjust="spacingAndGlyphs" >May</text>
<text x="596.4" y="741.8" font-size="15.4" fill="#131722" text-anchor="start" font-weight="normal" textLength="21.92" lengthAdjust="spacingAndGlyphs" >Jun</text>
<text x="725.9" y="741.8" font-size="15.4" fill="#131722" text-anchor="start" font-weight="normal" textLength="17.38" lengthAdjust="spacingAndGlyphs" >Jul</text>
<text x="854.3" y="741.8" font-size="15.4" fill="#131722" text-anchor="start" font-weight="normal" textLength="24.19" lengthAdjust="spacingAndGlyphs" >Aug</text>
<text x="985.2" y="741.8" font-size="15.4" fill="#131722" text-anchor="start" font-weight="normal" textLength="24.19" lengthAdjust="spacingAndGlyphs" >Sep</text>
<text x="1113.8" y="741.8" font-size="15.4" fill="#131722" text-anchor="start" font-weight="normal" textLength="21.16" lengthAdjust="spacingAndGlyphs" >Oct</text>
<text x="1243.1" y="741.8" font-size="15.4" fill="#131722" text-anchor="start" font-weight="normal" textLength="24.17" lengthAdjust="spacingAndGlyphs" >Nov</text>
<text x="1370.2" y="741.8" font-size="15.4" fill="#131722" text-anchor="start" font-weight="normal" textLength="24.17" lengthAdjust="spacingAndGlyphs" >Dec</text>
<text x="1633.8" y="741.8" font-size="15.4" fill="#131722" text-anchor="start" font-weight="normal" textLength="23.42" lengthAdjust="spacingAndGlyphs" >Feb</text>
<text x="1497" y="741.8" font-size="15.4" fill="#131722" text-anchor="start" font-weight="bold" textLength="33.60" lengthAdjust="spacingAndGlyphs" >2026</text>
<g fill="#131722"><path d="M13.2,769.6 H22.8 V781.7 H17.6 V774.3 H13.2 Z"/><circle cx="26.6" cy="772" r="2.3"/><path d="M30.4,769.6 H37.2 L33.9,781.7 H26.9 Z"/></g>
<text x="42.2" y="781.7" font-size="16" fill="#131722" text-anchor="start" font-weight="normal" textLength="87.30" lengthAdjust="spacingAndGlyphs" >TradingView</text>
</svg>
</body></html>
